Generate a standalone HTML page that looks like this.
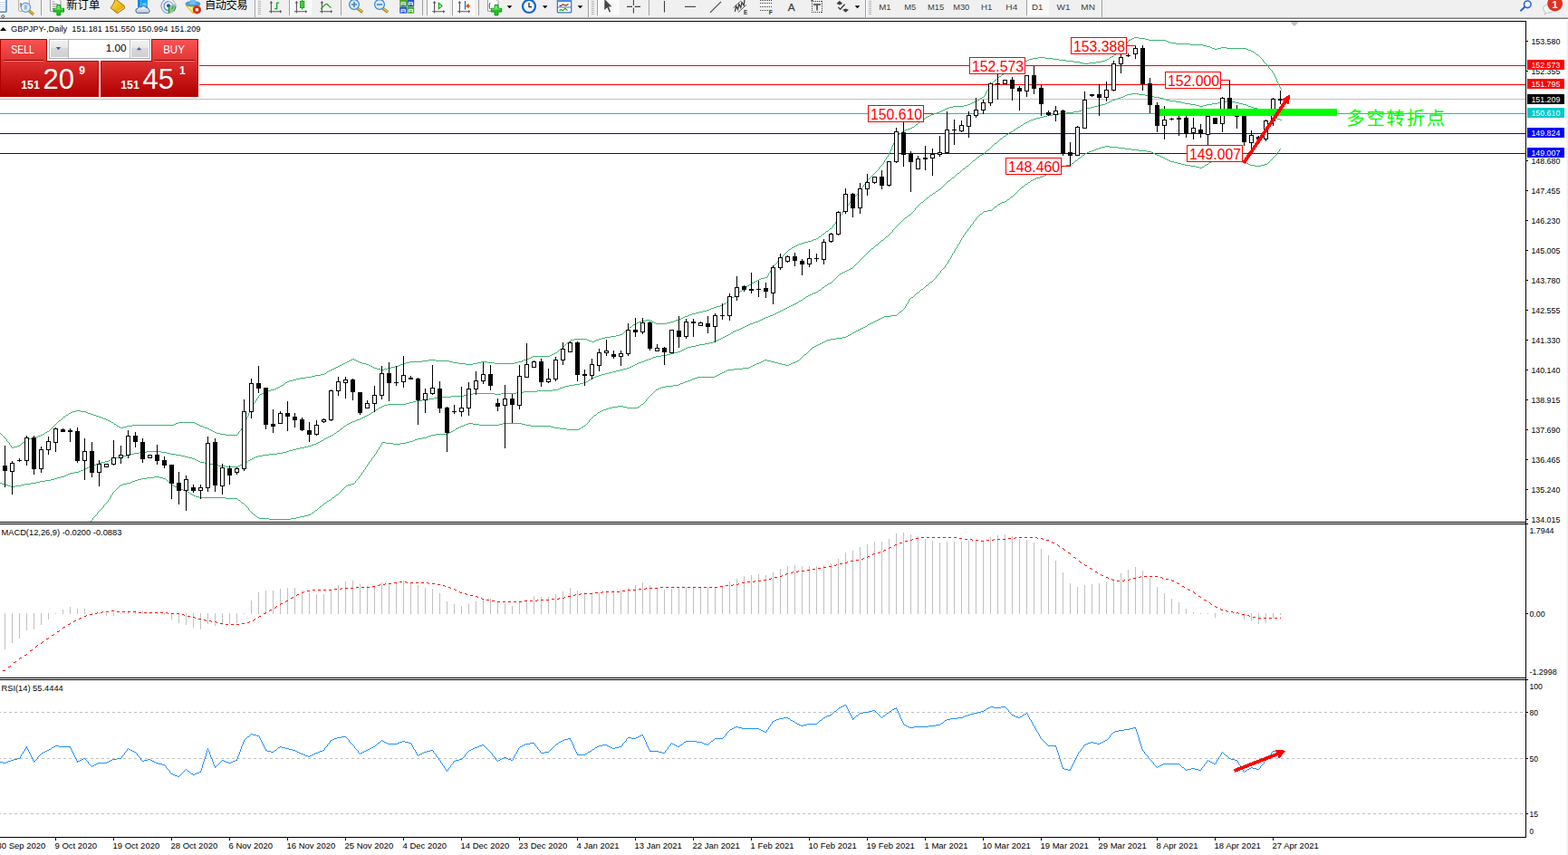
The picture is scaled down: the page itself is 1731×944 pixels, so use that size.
<!DOCTYPE html>
<html><head><meta charset="utf-8"><title>GBPJPY Daily</title>
<style>
html,body{margin:0;padding:0;background:#fff;}
body{width:1731px;height:944px;overflow:hidden;position:relative;font-family:"Liberation Sans",sans-serif;}
text{font-family:"Liberation Sans",sans-serif;}
</style></head><body>
<svg width="1731" height="944" viewBox="0 0 1731 944" style="position:absolute;left:0;top:0">
<defs><clipPath id="cm"><rect x="0" y="24" width="1684" height="552"/></clipPath></defs>
<rect x="0" y="23" width="1685" height="1" fill="#000" />
<rect x="1684" y="23" width="1" height="902" fill="#000" />
<rect x="0" y="576" width="1685" height="1" fill="#000" />
<rect x="0" y="578" width="1687" height="1" fill="#000" />
<rect x="0" y="748" width="1685" height="1" fill="#000" />
<rect x="0" y="750" width="1687" height="1" fill="#000" />
<rect x="0" y="924" width="1685" height="1" fill="#000" />
<rect x="1730" y="21" width="1" height="923" fill="#f0f0f0" />
<rect x="1729" y="21" width="1" height="923" fill="#f8f8f8" />
<rect x="220" y="72" width="1464" height="1" fill="#ff0000" />
<rect x="220" y="93" width="1464" height="1" fill="#ff0000" />
<rect x="0" y="109" width="1684" height="1" fill="#c0c0c0" />
<rect x="0" y="125" width="1684" height="1" fill="#00c8c8" />
<rect x="0" y="147" width="1684" height="1" fill="#0000ff" />
<rect x="0" y="169" width="1684" height="1" fill="#0000ff" />
<path d="M383 399.5h2M395 399.5h2M452 399.5h14M496 399.5h4M531 399.5h7M572 399.5h4M47 479.5h2M243 479.5h6M1146 63.5h8M1225 63.5h2M365 408.5h2M420 408.5h4M1298 48.5h16M385 398.5h2M393 398.5h2M466 398.5h7M481 398.5h15M576 398.5h2M50 477.5h2M237 477.5h2M1037 123.5h2M381 400.5h2M397 400.5h3M448 400.5h4M500 400.5h6M527 400.5h4M538 400.5h8M568 400.5h4M389 396.5h2M581 396.5h3M703 356.5h2M722 356.5h2M736 356.5h4M1136 65.5h4M1162 65.5h7M1222 65.5h2M799 335.5h2M387 397.5h2M391 397.5h2M473 397.5h8M578 397.5h3M1002 142.5h3M40 482.5h2M701 357.5h2M724 357.5h12M1115 77.5h2M795 337.5h3M1287 45.5h2M1106 82.5h2M146 469.5h46M219 469.5h2M123 466.5h2M197 466.5h18M373 404.5h2M409 404.5h2M436 404.5h4M588 393.5h19M690 365.5h2M1314 49.5h14M1132 67.5h2M1177 67.5h8M1216 67.5h4M45 480.5h2M249 480.5h13M1338 53.5h3M1344 53.5h4M1354 53.5h22M379 401.5h2M400 401.5h4M445 401.5h3M506 401.5h8M522 401.5h5M546 401.5h22M1192 69.5h4M1202 69.5h8M367 407.5h2M416 407.5h4M424 407.5h4M783 341.5h2M131 471.5h2M136 471.5h4M224 471.5h2M680 370.5h4M80 454.5h4M89 454.5h6M708 354.5h5M718 354.5h2M744 354.5h2M634 374.5h14M661 374.5h3M611 390.5h2M825 315.5h2M772 344.5h4M898 264.5h3M129 470.5h2M140 470.5h6M221 470.5h3M305 428.5h2M668 372.5h6M358 412.5h2M323 419.5h4M1378 55.5h3M888 267.5h4M1246 44.5h2M1268 44.5h19M1028 126.5h3M19 492.5h3M1134 66.5h2M1169 66.5h8M1220 66.5h2M65 464.5h2M119 464.5h2M1024 128.5h2M785 340.5h3M36 483.5h4M377 402.5h2M404 402.5h3M442 402.5h3M514 402.5h8M827 314.5h2M674 371.5h6M1108 81.5h2M761 347.5h3M626 378.5h2M100 457.5h3M29 485.5h3M73 458.5h2M103 458.5h3M812 325.5h2M315 422.5h2M70 460.5h2M109 460.5h3M752 351.5h2M1045 119.5h3M705 355.5h3M720 355.5h2M740 355.5h4M1073 113.5h2M369 406.5h2M413 406.5h3M428 406.5h4M1140 64.5h6M1154 64.5h8M25 488.5h2M653 377.5h3M1227 62.5h2M754 350.5h2M1048 118.5h4M1248 43.5h2M1264 43.5h4M749 352.5h3M126 468.5h2M192 468.5h2M217 468.5h2M1034 124.5h3M1233 58.5h2M52 476.5h2M235 476.5h2M1328 50.5h4M999 143.5h3M1185 68.5h7M1210 68.5h6M76 456.5h2M97 456.5h3M1236 56.5h2M1381 56.5h2M133 472.5h3M226 472.5h3M331 417.5h7M695 361.5h2M664 373.5h4M371 405.5h2M411 405.5h2M432 405.5h4M291 433.5h2M348 414.5h6M1250 42.5h2M1257 42.5h7M233 475.5h2M15 493.5h4M293 432.5h2M1123 73.5h2M880 270.5h2M993 147.5h2M194 467.5h3M215 467.5h2M876 272.5h2M1011 137.5h2M1292 47.5h6M106 459.5h3M1383 57.5h2M1052 117.5h12M42 481.5h3M1341 54.5h3M1376 54.5h2M878 271.5h2M630 375.5h4M648 375.5h2M658 375.5h3M1128 70.5h2M1196 70.5h6M650 376.5h3M656 376.5h2M780 342.5h3M239 478.5h4M901 263.5h2M78 455.5h2M95 455.5h2M896 265.5h2M768 345.5h4M303 429.5h2M84 453.5h5M319 420.5h4M885 268.5h3M1026 127.5h2M1103 84.5h2M1332 51.5h4M1082 108.5h2M1079 110.5h2M1098 88.5h2M803 332.5h2M1230 60.5h2M1387 60.5h2M759 348.5h2M844 306.5h3M1125 72.5h2M713 353.5h5M746 353.5h3M1043 120.5h2M618 385.5h2M834 310.5h2M1071 114.5h2M112 461.5h2M836 309.5h2M808 328.5h2M311 425.5h2M1252 41.5h5M1113 78.5h2M791 338.5h4M586 394.5h2M338 416.5h6M609 391.5h2M361 410.5h2M121 465.5h2M1022 129.5h2M375 403.5h2M407 403.5h2M440 403.5h2M344 415.5h4M1336 52.5h2M1348 52.5h6M756 349.5h3M908 258.5h2M1121 74.5h2M1005 141.5h2M832 311.5h2M1068 115.5h3M1007 140.5h2M1031 125.5h3M117 463.5h2M817 321.5h2M114 462.5h3M997 144.5h2M317 421.5h2M1015 134.5h2M299 430.5h4M229 473.5h2M764 346.5h4M882 269.5h3M13 494.5h2M607 392.5h2M32 484.5h4M1041 121.5h2M788 339.5h3M309 426.5h2M1289 46.5h3M327 418.5h4M231 474.5h2M822 317.5h2M840 307.5h4M684 369.5h3M1077 111.5h2M354 413.5h4M287 435.5h2M1119 75.5h2M1084 107.5h2M904 261.5h2M1111 79.5h2M363 409.5h2M295 431.5h4M912 255.5h2M1117 76.5h2M289 434.5h2M1019 131.5h2M1039 122.5h2M1064 116.5h4M830 312.5h2M874 273.5h2M307 427.5h2M776 343.5h4M892 266.5h4M838 308.5h2M1075 112.5h2M584 395.5h2M699 358.5h2M613 389.5h2M871 275.5h2M916 252.5h2M1407.5 83v2M983.5 165v2M1018.5 132v1M5.5 483v1M972.5 183v1M975.5 179v2M1241.5 51v1M857.5 290v1M1110.5 80v1M1095.5 91v1M920.5 248v1M967.5 189v1M1087.5 104v2M932.5 230v2M1131.5 68v1M67.5 463v1M624.5 380v1M280.5 445v1M865.5 281v1M854.5 293v1M1396.5 69v1M987.5 155v3M814.5 324v1M271.5 463v2M943.5 217v2M263.5 477v2M978.5 174v2M4.5 482v1M1403.5 77v1M1406.5 81v2M615.5 388v1M276.5 452v2M850.5 299v2M807.5 329v1M1091.5 97v2M314.5 423v1M923.5 244v1M1389.5 61v1M283.5 440v2M935.5 227v1M982.5 167v2M275.5 454v2M23.5 490v1M1395.5 68v1M930.5 233v2M58.5 471v1M962.5 194v1M622.5 382v1M911.5 256v1M1244.5 46v2M274.5 456v3M869.5 277v1M811.5 326v1M926.5 240v1M938.5 223v1M279.5 446v2M270.5 465v3M989.5 151v2M1232.5 59v1M951.5 207v1M1009.5 139v1M27.5 487v1M1224.5 64v1M262.5 479v1M974.5 181v1M954.5 203v1M1394.5 66v2M286.5 436v1M1013.5 136v1M1413.5 96v2M915.5 253v1M269.5 468v2M69.5 461v1M7.5 485v2M919.5 249v2M853.5 294v2M8.5 487v1M966.5 190v1M848.5 302v2M805.5 331v1M957.5 199v1M265.5 475v1M864.5 282v1M49.5 478v1M942.5 219v1M1017.5 133v1M847.5 304v2M0.5 478v1M1097.5 89v1M922.5 245v2M969.5 187v1M1238.5 55v1M937.5 224v2M981.5 169v2M1101.5 86v1M950.5 208v2M929.5 235v2M60.5 469v1M282.5 442v1M824.5 316v1M273.5 459v2M945.5 215v1M128.5 469v1M693.5 363v1M925.5 241v2M1397.5 70v1M278.5 448v2M1398.5 71v1M6.5 484v1M988.5 153v2M1105.5 83v1M856.5 291v1M953.5 204v2M859.5 287v1M10.5 489v2M934.5 228v1M285.5 437v2M628.5 377v1M617.5 386v1M906.5 260v1M268.5 470v2M964.5 192v1M1390.5 62v1M75.5 457v1M621.5 383v1M910.5 257v1M697.5 360v1M1412.5 94v2M977.5 176v1M980.5 171v2M64.5 465v1M55.5 474v1M940.5 221v1M928.5 237v1M866.5 280v1M956.5 200v2M948.5 211v1M1411.5 92v2M1096.5 90v1M1400.5 73v2M968.5 188v1M873.5 274v1M2.5 480v1M959.5 197v1M1401.5 75v1M815.5 323v1M1385.5 58v1M991.5 149v1M264.5 476v1M1386.5 59v1M995.5 146v1M9.5 488v1M272.5 461v2M984.5 162v3M1242.5 49v2M858.5 288v2M1414.5 98v1M1.5 479v1M924.5 243v1M971.5 184v1M1229.5 61v1M1100.5 87v1M62.5 467v1M1130.5 69v1M947.5 212v2M12.5 492v2M623.5 381v1M267.5 472v1M688.5 367v1M819.5 320v1M870.5 276v1M963.5 193v1M692.5 364v1M861.5 285v1M1021.5 130v1M1410.5 90v2M1392.5 64v1M360.5 411v1M936.5 226v1M1399.5 72v1M1094.5 92v1M986.5 158v2M931.5 232v1M11.5 491v1M1090.5 99v1M798.5 336v1M57.5 472v1M927.5 238v2M849.5 301v1M1240.5 52v1M939.5 222v1M1243.5 48v1M802.5 333v1M1409.5 87v3M54.5 475v1M1010.5 138v1M955.5 202v1M1086.5 106v1M22.5 491v1M970.5 185v2M125.5 467v1M1391.5 63v1M868.5 278v1M914.5 254v1M961.5 195v1M806.5 330v1M852.5 296v2M68.5 462v1M918.5 251v1M829.5 313v1M903.5 262v1M266.5 473v2M958.5 198v1M985.5 160v2M821.5 318v1M281.5 443v2M810.5 327v1M313.5 424v1M61.5 468v1M907.5 259v1M694.5 362v1M990.5 150v1M1402.5 76v1M1235.5 57v1M1089.5 100v2M687.5 368v1M277.5 450v2M973.5 182v1M1239.5 53v2M1102.5 85v1M1093.5 93v2M921.5 247v1M72.5 459v1M625.5 379v1M946.5 214v1M3.5 481v1M949.5 210v1M629.5 376v1M863.5 283v1M976.5 177v2M941.5 220v1M698.5 359v1M860.5 286v1M56.5 473v1M855.5 292v1M965.5 191v1M1408.5 85v2M933.5 229v1M1404.5 78v2M59.5 470v1M616.5 387v1M1405.5 80v1M1092.5 95v2M944.5 216v1M620.5 384v1M801.5 334v1M867.5 279v1M1393.5 65v1M992.5 148v1M24.5 489v1M1088.5 102v2M952.5 206v1M28.5 486v1M1081.5 109v1M284.5 439v1M979.5 173v1M960.5 196v1M816.5 322v1M851.5 298v1M1245.5 45v1M1127.5 71v1M63.5 466v1M820.5 319v1M996.5 145v1M689.5 366v1M1014.5 135v1M862.5 284v1" stroke="#3cb371" stroke-width="1" fill="none" shape-rendering="crispEdges"/>
<path d="M1138 132.5h3M1413 132.5h2M1244 104.5h5M1257 104.5h7M753 386.5h2M154 499.5h8M178 499.5h6M312 499.5h4M428 446.5h20M140 502.5h4M194 502.5h6M290 502.5h7M77 522.5h5M1226 111.5h2M1291 111.5h7M1354 111.5h6M1220 114.5h2M1308 114.5h6M1338 114.5h6M1368 114.5h4M106 512.5h3M232 512.5h4M267 512.5h2M483 438.5h15M0 533.5h2M34 533.5h6M999 240.5h2M672 411.5h4M1231 109.5h3M1284 109.5h3M640 423.5h4M162 498.5h16M316 498.5h3M1208 117.5h4M1324 117.5h4M1378 117.5h3M929 301.5h2M1104 153.5h2M877 335.5h2M1127 138.5h2M848 349.5h2M1124 140.5h2M1224 112.5h2M1298 112.5h6M1348 112.5h6M1360 112.5h4M112 510.5h4M221 510.5h5M271 510.5h2M818 362.5h2M98 515.5h2M249 515.5h14M621 427.5h3M716 396.5h3M44 531.5h6M498 437.5h14M2 534.5h3M27 534.5h7M684 408.5h4M867 340.5h2M744 389.5h4M570 433.5h8M800 371.5h2M1237 107.5h3M1274 107.5h6M124 506.5h3M212 506.5h3M278 506.5h2M730 392.5h6M56 529.5h4M904 320.5h2M634 424.5h6M820 361.5h2M661 414.5h3M1156 127.5h6M1401 127.5h2M1222 113.5h2M1304 113.5h4M1344 113.5h4M1364 113.5h4M719 395.5h2M403 459.5h2M869 339.5h2M1216 115.5h4M1314 115.5h6M1332 115.5h6M1372 115.5h4M522 434.5h24M553 434.5h17M1144 130.5h4M1408 130.5h2M962 274.5h2M103 513.5h3M236 513.5h5M265 513.5h2M578 432.5h15M652 418.5h2M865 341.5h2M5 535.5h4M23 535.5h4M1204 118.5h4M1381 118.5h3M708 399.5h3M1169 125.5h8M1228 110.5h3M1287 110.5h4M935 298.5h2M456 443.5h4M331 494.5h5M1017 223.5h2M516 435.5h6M546 435.5h7M973 265.5h2M136 503.5h4M200 503.5h4M285 503.5h5M1212 116.5h4M1320 116.5h4M1328 116.5h4M1376 116.5h2M319 497.5h4M787 377.5h3M1249 103.5h8M466 441.5h7M1141 131.5h3M1410 131.5h3M654 417.5h2M346 490.5h3M837 354.5h2M122 507.5h2M215 507.5h2M276 507.5h2M892 326.5h2M772 380.5h6M807 367.5h2M109 511.5h3M226 511.5h6M269 511.5h2M336 493.5h4M1136 133.5h2M1200 119.5h4M1384 119.5h4M389 465.5h3M826 358.5h2M857 345.5h2M978 261.5h2M763 382.5h5M131 504.5h5M204 504.5h4M282 504.5h3M323 496.5h4M790 376.5h2M473 440.5h6M148 500.5h6M184 500.5h4M306 500.5h6M410 455.5h2M624 426.5h4M12 537.5h5M894 325.5h2M100 514.5h3M241 514.5h8M263 514.5h2M1116 145.5h2M120 508.5h2M217 508.5h2M274 508.5h2M593 431.5h17M628 425.5h6M9 536.5h3M17 536.5h6M845 350.5h3M420 449.5h2M644 422.5h3M887 329.5h2M71 525.5h2M60 528.5h3M901 322.5h2M380 470.5h2M816 363.5h2M688 407.5h4M399 461.5h2M1185 123.5h6M1394 123.5h2M705 400.5h3M479 439.5h4M1057 191.5h2M1119 143.5h2M650 419.5h2M778 379.5h5M1242 105.5h2M1264 105.5h4M911 315.5h2M144 501.5h4M188 501.5h6M297 501.5h9M448 445.5h4M92 518.5h2M697 404.5h2M873 337.5h2M692 406.5h3M1027 215.5h2M1063 186.5h2M63 527.5h4M355 486.5h2M50 530.5h6M1148 129.5h4M1405 129.5h3M1162 126.5h7M1399 126.5h2M618 428.5h3M676 410.5h4M740 390.5h4M610 430.5h6M67 526.5h4M884 331.5h2M798 372.5h2M724 393.5h6M794 374.5h2M658 415.5h3M1152 128.5h4M1403 128.5h2M512 436.5h4M340 492.5h4M1047 199.5h2M1003 237.5h2M418 450.5h2M1111 148.5h2M452 444.5h4M366 480.5h2M1108 150.5h2M1132 135.5h2M362 482.5h2M1197 120.5h3M1388 120.5h3M87 520.5h2M344 491.5h2M890 327.5h2M75 523.5h2M834 355.5h3M392 464.5h2M1134 134.5h2M364 481.5h2M1234 108.5h3M1280 108.5h4M387 466.5h2M908 317.5h2M855 346.5h2M116 509.5h4M219 509.5h2M759 383.5h4M89 519.5h3M751 387.5h2M424 447.5h4M372 476.5h2M1240 106.5h2M1268 106.5h6M40 532.5h4M695 405.5h2M1033 211.5h2M1194 121.5h3M1391 121.5h2M813 364.5h3M401 460.5h2M397 462.5h2M863 342.5h2M415 452.5h2M882 332.5h2M703 401.5h2M127 505.5h4M208 505.5h4M280 505.5h2M1177 124.5h8M1396 124.5h2M802 370.5h2M850 348.5h3M875 336.5h2M871 338.5h2M1114 146.5h2M422 448.5h2M853 347.5h2M736 391.5h4M353 487.5h2M843 351.5h2M748 388.5h3M616 429.5h2M916 312.5h2M796 373.5h2M1098 158.5h2M713 397.5h3M931 300.5h2M757 384.5h2M783 378.5h4M831 356.5h3M933 299.5h2M1082 171.5h2M822 360.5h2M967 270.5h2M721 394.5h3M405 458.5h2M804 369.5h2M647 421.5h2M1084 170.5h2M824 359.5h2M407 457.5h2M656 416.5h2M839 353.5h2M939 296.5h2M680 409.5h4M668 412.5h4M792 375.5h2M1122 141.5h2M351 488.5h2M376 473.5h2M896 324.5h2M460 442.5h6M811 365.5h2M394 463.5h3M1067 183.5h2M768 381.5h4M861 343.5h2M327 495.5h4M898 323.5h3M1191 122.5h3M1023 218.5h2M841 352.5h2M369 478.5h2M937 297.5h2M94 517.5h2M711 398.5h2M1090 165.5h2M96 516.5h2M828 357.5h3M701 402.5h2M358 484.5h2M383 468.5h2M385 467.5h2M664 413.5h4M914 313.5h2M1030 213.5h2M809 366.5h2M859 344.5h2M755 385.5h2M82 521.5h5M1130 136.5h2M360 483.5h2M1036 209.5h2M927 302.5h2M1074 177.5h2M73 524.5h2M1079 173.5h2M1051 196.5h2M349 489.5h2M412 454.5h2M879 334.5h2M699 403.5h2M1010.5 230v2M374.5 475v1M1012.5 228v1M976.5 263v1M903.5 321v1M982.5 258v1M965.5 272v1M1060.5 189v1M1077.5 175v1M1076.5 176v1M981.5 259v1M1013.5 227v1M1009.5 232v1M980.5 260v1M998.5 241v1M964.5 273v1M969.5 269v1M996.5 243v1M1002.5 238v1M1086.5 169v1M1001.5 239v1M1006.5 235v1M955.5 281v1M956.5 280v1M1040.5 206v1M1015.5 225v1M986.5 253v1M953.5 283v1M954.5 282v1M994.5 245v1M1038.5 208v1M806.5 368v1M1045.5 201v1M1046.5 200v1M886.5 330v1M1029.5 214v1M375.5 474v1M1019.5 222v1M985.5 254v2M992.5 247v1M649.5 420v1M922.5 307v1M379.5 471v1M923.5 306v1M1097.5 159v1M1081.5 172v1M1103.5 154v1M943.5 293v1M944.5 292v1M920.5 309v1M1095.5 161v1M921.5 308v1M378.5 472v1M1096.5 160v1M1101.5 156v1M907.5 318v1M941.5 295v1M1011.5 229v1M942.5 294v1M1069.5 182v1M1007.5 234v1M1089.5 166v1M1005.5 236v1M1087.5 168v1M1062.5 187v1M945.5 291v1M993.5 246v1M966.5 271v1M1050.5 197v1M1056.5 192v1M991.5 248v1M951.5 285v1M952.5 284v1M1049.5 198v1M1054.5 194v1M1102.5 155v1M1044.5 202v1M1107.5 151v1M889.5 328v1M950.5 286v1M382.5 469v1M1042.5 204v1M1100.5 157v1M1106.5 152v1M1032.5 212v1M1126.5 139v1M949.5 287v1M906.5 319v1M989.5 250v1M1398.5 125v1M1118.5 144v1M357.5 485v1M1088.5 167v1M1110.5 149v1M1093.5 163v1M919.5 310v1M1094.5 162v1M984.5 256v1M1016.5 224v1M987.5 252v1M977.5 262v1M273.5 509v1M1092.5 164v1M918.5 311v1M983.5 257v1M1393.5 122v1M1020.5 221v1M1129.5 137v1M972.5 266v1M1073.5 178v1M970.5 268v1M971.5 267v1M1066.5 184v1M1071.5 180v1M960.5 276v1M1055.5 193v1M961.5 275v1M1072.5 179v1M1061.5 188v1M975.5 264v1M958.5 278v1M1070.5 181v1M959.5 277v1M1059.5 190v1M414.5 453v1M1043.5 203v1M1065.5 185v1M1008.5 233v1M881.5 333v1M957.5 279v1M990.5 249v1M997.5 242v1M1041.5 205v1M417.5 451v1M1053.5 195v1M409.5 456v1M1022.5 219v1M988.5 251v1M368.5 479v1M995.5 244v1M948.5 288v1M1035.5 210v1M925.5 304v1M926.5 303v1M1021.5 220v1M1026.5 216v1M910.5 316v1M913.5 314v1M946.5 290v1M1121.5 142v1M947.5 289v1M1113.5 147v1M924.5 305v1M1039.5 207v1M1025.5 217v1M371.5 477v1M1014.5 226v1M1078.5 174v1" stroke="#3cb371" stroke-width="1" fill="none" shape-rendering="crispEdges"/>
<path d="M512 469.5h2M529 469.5h22M580 469.5h6M810 407.5h10M1216 162.5h4M1225 162.5h9M1200 168.5h2M1271 168.5h2M466 483.5h5M682 448.5h6M156 528.5h6M180 528.5h3M133 535.5h3M384 535.5h4M770 416.5h19M503 473.5h2M618 473.5h8M639 473.5h2M336 569.5h4M200 540.5h2M899 382.5h2M1106 223.5h3M456 486.5h2M835 401.5h3M859 401.5h4M873 401.5h2M509 470.5h3M586 470.5h22M644 470.5h2M514 468.5h3M522 468.5h7M551 468.5h4M576 468.5h4M797 411.5h2M1177 182.5h5M1308 182.5h6M1330 182.5h2M1380 182.5h5M1392 182.5h4M1102 225.5h2M267 555.5h2M358 555.5h2M669 451.5h3M1304 181.5h4M1332 181.5h2M1378 181.5h2M1396 181.5h3M1288 176.5h2M1341 176.5h16M286 572.5h11M321 572.5h6M793 413.5h2M759 420.5h3M426 489.5h8M442 489.5h6M1187 177.5h2M1290 177.5h2M1339 177.5h2M1357 177.5h9M146 531.5h3M754 422.5h2M434 490.5h8M1296 179.5h4M1335 179.5h2M1372 179.5h4M1282 173.5h2M136 534.5h4M388 534.5h3M1292 178.5h4M1337 178.5h2M1366 178.5h6M743 425.5h6M191 536.5h2M382 536.5h2M220 549.5h29M367 549.5h2M735 426.5h8M930 372.5h4M672 450.5h4M692 450.5h12M1157 191.5h5M983 348.5h7M263 552.5h2M363 552.5h2M214 547.5h2M756 421.5h3M662 454.5h2M949 363.5h2M838 400.5h2M855 400.5h4M875 400.5h3M968 353.5h2M297 573.5h24M1195 171.5h2M1277 171.5h3M842 398.5h2M847 398.5h4M880 398.5h2M907 378.5h2M1155 192.5h2M1183 180.5h2M1300 180.5h4M1376 180.5h2M517 467.5h5M555 467.5h21M1208 165.5h2M1249 165.5h8M1173 183.5h4M1314 183.5h6M1385 183.5h7M1144 196.5h4M1220 161.5h5M801 409.5h2M960 357.5h2M1324 185.5h3M764 418.5h3M1128 206.5h2M152 529.5h4M481 479.5h13M353 559.5h2M1286 175.5h2M1280 172.5h2M1198 169.5h2M1273 169.5h2M496 477.5h2M676 449.5h6M688 449.5h4M704 449.5h2M507 471.5h2M608 471.5h4M642 471.5h2M361 553.5h2M1210 164.5h3M1242 164.5h7M1202 167.5h3M1266 167.5h5M831 403.5h2M867 403.5h4M666 452.5h3M284 571.5h2M327 571.5h4M827 405.5h2M976 349.5h7M144 532.5h2M186 532.5h2M249 550.5h13M840 399.5h2M851 399.5h4M878 399.5h2M820 406.5h7M170 526.5h6M1138 199.5h2M1086 233.5h4M494 478.5h2M730 427.5h5M207 543.5h2M280 568.5h2M340 568.5h3M1320 184.5h4M1327 184.5h2M708 446.5h2M660 455.5h2M473 481.5h3M626 474.5h13M1112 220.5h2M803 408.5h7M1213 163.5h3M1234 163.5h8M331 570.5h5M210 545.5h2M1142 197.5h2M458 485.5h3M958 358.5h2M452 487.5h4M212 546.5h2M371 546.5h2M205 542.5h2M1148 195.5h3M833 402.5h2M863 402.5h4M871 402.5h2M917 374.5h6M216 548.5h4M791 414.5h2M1205 166.5h3M1257 166.5h9M1135 201.5h2M923 373.5h7M951 362.5h2M947 364.5h2M970 352.5h2M1275 170.5h2M966 354.5h2M461 484.5h5M1191 174.5h2M1284 174.5h2M505 472.5h2M612 472.5h6M799 410.5h2M202 541.5h3M476 480.5h5M195 538.5h2M1090 232.5h5M911 376.5h2M941 367.5h2M162 527.5h8M176 527.5h4M955 360.5h2M193 537.5h2M829 404.5h2M344 566.5h2M974 350.5h2M664 453.5h2M422 488.5h4M448 488.5h4M348 563.5h2M1006 328.5h2M728 428.5h2M913 375.5h4M943 366.5h2M1017 319.5h2M1162 190.5h4M905 379.5h2M1153 193.5h2M498 476.5h2M1022 315.5h2M888 391.5h2M1140 198.5h2M938 369.5h2M1027 311.5h2M149 530.5h3M140 533.5h4M844 397.5h3M1104 224.5h2M197 539.5h3M901 381.5h2M903 380.5h2M1012 323.5h2M934 371.5h2M953 361.5h2M789 415.5h2M936 370.5h2M1082 236.5h2M751 423.5h3M964 355.5h2M1151 194.5h2M656 458.5h2M500 475.5h2M1109 222.5h2M762 419.5h2M972 351.5h2M726 429.5h2M1098 228.5h2M1132 203.5h2M993 344.5h2M962 356.5h2M795 412.5h2M1169 186.5h2M724 430.5h2M749 424.5h2M1116 217.5h2M945 365.5h2M471 482.5h2M909 377.5h2M767 417.5h3M897 383.5h2M712.5 443v1M1001.5 335v1M1068.5 253v2M269.5 556v1M1024.5 314v1M1137.5 200v1M1063.5 260v2M128.5 540v1M1044.5 292v1M1119.5 215v1M113.5 560v1M1036.5 302v1M1059.5 267v2M1039.5 298v1M1071.5 249v2M1051.5 280v2M399.5 522v2M402.5 518v1M411.5 505v1M1404.5 175v1M276.5 564v1M1055.5 274v1M418.5 494v2M1047.5 287v2M896.5 384v1M1168.5 187v1M116.5 556v1M654.5 460v1M1412.5 165v2M379.5 539v1M1126.5 208v1M1172.5 184v1M658.5 457v1M132.5 536v1M1407.5 172v1M1079.5 239v1M343.5 567v1M502.5 474v1M651.5 463v1M1004.5 330v1M719.5 435v1M414.5 501v1M108.5 565v1M646.5 469v1M119.5 552v2M100.5 575v1M1000.5 336v2M1058.5 269v1M421.5 489v2M398.5 524v1M282.5 569v1M410.5 506v2M995.5 343v1M347.5 564v1M283.5 570v1M1097.5 229v1M1062.5 262v1M1011.5 324v1M370.5 547v1M405.5 513v2M1074.5 245v2M1054.5 275v2M891.5 389v1M1124.5 210v1M351.5 561v1M1043.5 293v2M1101.5 226v1M1046.5 289v2M374.5 544v1M1121.5 213v1M884.5 395v1M355.5 558v1M127.5 541v1M103.5 571v1M1038.5 299v2M1402.5 177v1M1050.5 282v2M707.5 447v1M711.5 444v1M1399.5 180v1M1070.5 251v1M1026.5 312v1M1015.5 321v1M1065.5 257v2M130.5 538v1M1030.5 309v1M1077.5 241v2M118.5 554v1M1019.5 318v1M393.5 530v1M381.5 537v1M999.5 338v2M277.5 565v1M417.5 496v1M278.5 566v1M895.5 385v1M1189.5 176v1M122.5 547v2M650.5 464v2M653.5 461v1M1193.5 173v1M1003.5 331v2M401.5 519v2M413.5 502v2M107.5 566v2M648.5 467v1M1406.5 173v1M1033.5 305v2M396.5 526v2M270.5 557v1M408.5 509v1M1334.5 180v1M102.5 572v2M420.5 491v2M188.5 533v1M1049.5 284v2M125.5 543v1M1197.5 170v1M714.5 440v1M110.5 563v1M1409.5 169v2M1061.5 263v2M365.5 551v1M886.5 393v1M1073.5 247v1M357.5 556v1M1053.5 277v2M346.5 565v1M1096.5 230v1M369.5 548v1M404.5 515v1M416.5 497v2M121.5 549v2M1057.5 270v2M1081.5 237v1M1037.5 301v1M997.5 341v1M265.5 553v1M1130.5 205v1M183.5 529v1M721.5 433v1M1076.5 243v1M893.5 387v1M392.5 531v2M1021.5 316v1M395.5 528v1M266.5 554v1M990.5 347v1M1010.5 325v1M1134.5 202v1M407.5 510v2M376.5 542v1M1123.5 211v1M1025.5 313v1M1100.5 227v1M1045.5 291v1M105.5 569v1M1008.5 327v1M1401.5 178v1M713.5 441v2M1032.5 307v1M1064.5 259v1M129.5 539v1M1029.5 310v1M1056.5 272v2M101.5 574v1M419.5 493v1M124.5 544v2M1114.5 219v1M716.5 438v1M189.5 534v1M1408.5 171v1M1060.5 265v2M1040.5 297v1M190.5 535v1M1118.5 216v1M403.5 516v2M279.5 567v1M415.5 499v2M1035.5 303v1M352.5 560v1M1067.5 255v1M117.5 555v1M655.5 459v1M120.5 551v1M659.5 456v1M1167.5 188v1M992.5 345v1M112.5 561v1M115.5 557v1M1411.5 167v1M272.5 559v1M378.5 540v1M1125.5 209v1M1016.5 320v1M720.5 434v1M1075.5 244v1M892.5 388v1M647.5 468v1M185.5 531v1M104.5 570v1M271.5 558v1M1171.5 185v1M996.5 342v1M723.5 431v1M131.5 537v1M957.5 359v1M394.5 529v1M406.5 512v1M375.5 543v1M1182.5 181v1M184.5 530v1M350.5 562v1M1403.5 176v1M1042.5 295v1M1186.5 178v1M1120.5 214v1M883.5 396v1M641.5 472v1M123.5 546v1M715.5 439v1M274.5 561v2M1085.5 234v1M275.5 563v1M1031.5 308v1M1078.5 240v1M1034.5 304v1M397.5 525v1M1066.5 256v1M409.5 508v1M1014.5 322v1M373.5 545v1M718.5 436v1M890.5 390v1M114.5 558v2M1190.5 175v1M126.5 542v1M1194.5 172v1M1002.5 333v2M111.5 562v1M649.5 466v1M940.5 368v1M262.5 551v1M706.5 448v1M400.5 521v1M412.5 504v1M710.5 445v1M106.5 568v1M1127.5 207v1M1166.5 189v1M991.5 346v1M1410.5 168v1M1413.5 164v1M377.5 541v1M366.5 550v1M273.5 560v1M887.5 392v1M722.5 432v1M1405.5 174v1M1069.5 252v1M1072.5 248v1M209.5 544v1M380.5 538v1M1329.5 183v1M998.5 340v1M1131.5 204v1M894.5 386v1M1080.5 238v1M652.5 462v1M1084.5 235v1M1005.5 329v1M356.5 557v1M1052.5 279v1M391.5 533v1M1020.5 317v1M1095.5 231v1M109.5 564v1M1009.5 326v1M360.5 554v1M1122.5 212v1M1111.5 221v1M1041.5 296v1M885.5 394v1M1185.5 179v1M882.5 397v1M1115.5 218v1M717.5 437v1M1048.5 286v1M1400.5 179v1" stroke="#3cb371" stroke-width="1" fill="none" shape-rendering="crispEdges"/>
<g shape-rendering="crispEdges"><rect x="5" y="492" width="1" height="46" fill="#000" /><rect x="3" y="514" width="5" height="6" fill="#000" /><rect x="13" y="509" width="1" height="37" fill="#000" /><rect x="11" y="511" width="5" height="10" fill="#000" /><rect x="12" y="512" width="3" height="8" fill="#fff" /><rect x="21" y="506" width="1" height="4" fill="#000" /><rect x="19" y="508" width="5" height="1" fill="#000" /><rect x="29" y="481" width="1" height="33" fill="#000" /><rect x="27" y="483" width="5" height="26" fill="#000" /><rect x="28" y="484" width="3" height="24" fill="#fff" /><rect x="37" y="481" width="1" height="43" fill="#000" /><rect x="35" y="483" width="5" height="35" fill="#000" /><rect x="45" y="493" width="1" height="29" fill="#000" /><rect x="43" y="496" width="5" height="22" fill="#000" /><rect x="44" y="497" width="3" height="20" fill="#fff" /><rect x="53" y="482" width="1" height="20" fill="#000" /><rect x="51" y="487" width="5" height="10" fill="#000" /><rect x="52" y="488" width="3" height="8" fill="#fff" /><rect x="61" y="472" width="1" height="27" fill="#000" /><rect x="59" y="473" width="5" height="16" fill="#000" /><rect x="60" y="474" width="3" height="14" fill="#fff" /><rect x="69" y="473" width="1" height="4" fill="#000" /><rect x="67" y="474" width="5" height="3" fill="#000" /><rect x="77" y="473" width="1" height="15" fill="#000" /><rect x="75" y="475" width="5" height="2" fill="#000" /><rect x="85" y="472" width="1" height="39" fill="#000" /><rect x="83" y="476" width="5" height="33" fill="#000" /><rect x="93" y="484" width="1" height="46" fill="#000" /><rect x="91" y="498" width="5" height="11" fill="#000" /><rect x="92" y="499" width="3" height="9" fill="#fff" /><rect x="101" y="488" width="1" height="39" fill="#000" /><rect x="99" y="498" width="5" height="24" fill="#000" /><rect x="109" y="508" width="1" height="29" fill="#000" /><rect x="107" y="512" width="5" height="10" fill="#000" /><rect x="108" y="513" width="3" height="8" fill="#fff" /><rect x="117" y="512" width="1" height="4" fill="#000" /><rect x="115" y="512" width="5" height="4" fill="#000" /><rect x="116" y="513" width="3" height="2" fill="#fff" /><rect x="125" y="486" width="1" height="28" fill="#000" /><rect x="123" y="505" width="5" height="8" fill="#000" /><rect x="124" y="506" width="3" height="6" fill="#fff" /><rect x="133" y="492" width="1" height="20" fill="#000" /><rect x="131" y="502" width="5" height="4" fill="#000" /><rect x="132" y="503" width="3" height="2" fill="#fff" /><rect x="141" y="475" width="1" height="31" fill="#000" /><rect x="139" y="481" width="5" height="22" fill="#000" /><rect x="140" y="482" width="3" height="20" fill="#fff" /><rect x="149" y="477" width="1" height="17" fill="#000" /><rect x="147" y="481" width="5" height="7" fill="#000" /><rect x="157" y="484" width="1" height="27" fill="#000" /><rect x="155" y="488" width="5" height="19" fill="#000" /><rect x="165" y="502" width="1" height="4" fill="#000" /><rect x="163" y="502" width="5" height="4" fill="#000" /><rect x="164" y="503" width="3" height="2" fill="#fff" /><rect x="173" y="491" width="1" height="22" fill="#000" /><rect x="171" y="502" width="5" height="7" fill="#000" /><rect x="181" y="504" width="1" height="13" fill="#000" /><rect x="179" y="508" width="5" height="6" fill="#000" /><rect x="189" y="513" width="1" height="38" fill="#000" /><rect x="187" y="513" width="5" height="21" fill="#000" /><rect x="197" y="521" width="1" height="36" fill="#000" /><rect x="195" y="533" width="5" height="9" fill="#000" /><rect x="205" y="525" width="1" height="39" fill="#000" /><rect x="203" y="529" width="5" height="13" fill="#000" /><rect x="204" y="530" width="3" height="11" fill="#fff" /><rect x="213" y="535" width="1" height="9" fill="#000" /><rect x="211" y="538" width="5" height="4" fill="#000" /><rect x="221" y="535" width="1" height="16" fill="#000" /><rect x="219" y="538" width="5" height="4" fill="#000" /><rect x="220" y="539" width="3" height="2" fill="#fff" /><rect x="229" y="482" width="1" height="61" fill="#000" /><rect x="227" y="489" width="5" height="50" fill="#000" /><rect x="228" y="490" width="3" height="48" fill="#fff" /><rect x="237" y="484" width="1" height="59" fill="#000" /><rect x="235" y="488" width="5" height="48" fill="#000" /><rect x="245" y="512" width="1" height="34" fill="#000" /><rect x="243" y="516" width="5" height="21" fill="#000" /><rect x="244" y="517" width="3" height="19" fill="#fff" /><rect x="253" y="514" width="1" height="21" fill="#000" /><rect x="251" y="517" width="5" height="8" fill="#000" /><rect x="261" y="516" width="1" height="8" fill="#000" /><rect x="259" y="517" width="5" height="5" fill="#000" /><rect x="260" y="518" width="3" height="3" fill="#fff" /><rect x="269" y="441" width="1" height="79" fill="#000" /><rect x="267" y="454" width="5" height="64" fill="#000" /><rect x="268" y="455" width="3" height="62" fill="#fff" /><rect x="277" y="418" width="1" height="44" fill="#000" /><rect x="275" y="423" width="5" height="32" fill="#000" /><rect x="276" y="424" width="3" height="30" fill="#fff" /><rect x="285" y="404" width="1" height="30" fill="#000" /><rect x="283" y="423" width="5" height="6" fill="#000" /><rect x="293" y="428" width="1" height="46" fill="#000" /><rect x="291" y="428" width="5" height="41" fill="#000" /><rect x="301" y="452" width="1" height="26" fill="#000" /><rect x="299" y="468" width="5" height="3" fill="#000" /><rect x="309" y="454" width="1" height="14" fill="#000" /><rect x="307" y="456" width="5" height="12" fill="#000" /><rect x="308" y="457" width="3" height="10" fill="#fff" /><rect x="317" y="443" width="1" height="33" fill="#000" /><rect x="315" y="456" width="5" height="4" fill="#000" /><rect x="325" y="456" width="1" height="16" fill="#000" /><rect x="323" y="460" width="5" height="4" fill="#000" /><rect x="333" y="461" width="1" height="15" fill="#000" /><rect x="331" y="463" width="5" height="12" fill="#000" /><rect x="341" y="466" width="1" height="22" fill="#000" /><rect x="339" y="475" width="5" height="5" fill="#000" /><rect x="349" y="464" width="1" height="17" fill="#000" /><rect x="347" y="469" width="5" height="11" fill="#000" /><rect x="348" y="470" width="3" height="9" fill="#fff" /><rect x="357" y="462" width="1" height="5" fill="#000" /><rect x="355" y="463" width="5" height="3" fill="#000" /><rect x="356" y="464" width="3" height="1" fill="#fff" /><rect x="365" y="430" width="1" height="35" fill="#000" /><rect x="363" y="431" width="5" height="33" fill="#000" /><rect x="364" y="432" width="3" height="31" fill="#fff" /><rect x="373" y="416" width="1" height="21" fill="#000" /><rect x="371" y="421" width="5" height="11" fill="#000" /><rect x="372" y="422" width="3" height="9" fill="#fff" /><rect x="381" y="416" width="1" height="24" fill="#000" /><rect x="379" y="419" width="5" height="4" fill="#000" /><rect x="380" y="420" width="3" height="2" fill="#fff" /><rect x="389" y="418" width="1" height="24" fill="#000" /><rect x="387" y="419" width="5" height="14" fill="#000" /><rect x="397" y="433" width="1" height="25" fill="#000" /><rect x="395" y="433" width="5" height="23" fill="#000" /><rect x="405" y="442" width="1" height="9" fill="#000" /><rect x="403" y="445" width="5" height="6" fill="#000" /><rect x="404" y="446" width="3" height="4" fill="#fff" /><rect x="413" y="426" width="1" height="29" fill="#000" /><rect x="411" y="436" width="5" height="10" fill="#000" /><rect x="412" y="437" width="3" height="8" fill="#fff" /><rect x="421" y="404" width="1" height="37" fill="#000" /><rect x="419" y="412" width="5" height="25" fill="#000" /><rect x="420" y="413" width="3" height="23" fill="#fff" /><rect x="429" y="400" width="1" height="43" fill="#000" /><rect x="427" y="412" width="5" height="11" fill="#000" /><rect x="437" y="404" width="1" height="22" fill="#000" /><rect x="435" y="422" width="5" height="1" fill="#000" /><rect x="445" y="393" width="1" height="35" fill="#000" /><rect x="443" y="414" width="5" height="8" fill="#000" /><rect x="444" y="415" width="3" height="6" fill="#fff" /><rect x="453" y="415" width="1" height="4" fill="#000" /><rect x="451" y="417" width="5" height="2" fill="#000" /><rect x="461" y="417" width="1" height="52" fill="#000" /><rect x="459" y="418" width="5" height="24" fill="#000" /><rect x="469" y="429" width="1" height="27" fill="#000" /><rect x="467" y="434" width="5" height="8" fill="#000" /><rect x="468" y="435" width="3" height="6" fill="#fff" /><rect x="477" y="403" width="1" height="33" fill="#000" /><rect x="475" y="428" width="5" height="7" fill="#000" /><rect x="476" y="429" width="3" height="5" fill="#fff" /><rect x="485" y="421" width="1" height="35" fill="#000" /><rect x="483" y="429" width="5" height="22" fill="#000" /><rect x="493" y="449" width="1" height="50" fill="#000" /><rect x="491" y="450" width="5" height="28" fill="#000" /><rect x="501" y="447" width="1" height="10" fill="#000" /><rect x="499" y="454" width="5" height="1" fill="#000" /><rect x="509" y="427" width="1" height="33" fill="#000" /><rect x="507" y="450" width="5" height="5" fill="#000" /><rect x="508" y="451" width="3" height="3" fill="#fff" /><rect x="517" y="422" width="1" height="37" fill="#000" /><rect x="515" y="429" width="5" height="22" fill="#000" /><rect x="516" y="430" width="3" height="20" fill="#fff" /><rect x="525" y="410" width="1" height="26" fill="#000" /><rect x="523" y="420" width="5" height="10" fill="#000" /><rect x="524" y="421" width="3" height="8" fill="#fff" /><rect x="533" y="400" width="1" height="24" fill="#000" /><rect x="531" y="413" width="5" height="8" fill="#000" /><rect x="532" y="414" width="3" height="6" fill="#fff" /><rect x="541" y="403" width="1" height="28" fill="#000" /><rect x="539" y="413" width="5" height="13" fill="#000" /><rect x="549" y="440" width="1" height="14" fill="#000" /><rect x="547" y="445" width="5" height="4" fill="#000" /><rect x="557" y="425" width="1" height="70" fill="#000" /><rect x="555" y="440" width="5" height="8" fill="#000" /><rect x="556" y="441" width="3" height="6" fill="#fff" /><rect x="565" y="435" width="1" height="32" fill="#000" /><rect x="563" y="440" width="5" height="7" fill="#000" /><rect x="573" y="403" width="1" height="49" fill="#000" /><rect x="571" y="415" width="5" height="33" fill="#000" /><rect x="572" y="416" width="3" height="31" fill="#fff" /><rect x="581" y="379" width="1" height="38" fill="#000" /><rect x="579" y="402" width="5" height="15" fill="#000" /><rect x="580" y="403" width="3" height="13" fill="#fff" /><rect x="589" y="398" width="1" height="8" fill="#000" /><rect x="587" y="399" width="5" height="7" fill="#000" /><rect x="588" y="400" width="3" height="5" fill="#fff" /><rect x="597" y="396" width="1" height="31" fill="#000" /><rect x="595" y="399" width="5" height="23" fill="#000" /><rect x="605" y="407" width="1" height="16" fill="#000" /><rect x="603" y="418" width="5" height="4" fill="#000" /><rect x="604" y="419" width="3" height="2" fill="#fff" /><rect x="613" y="394" width="1" height="27" fill="#000" /><rect x="611" y="397" width="5" height="22" fill="#000" /><rect x="612" y="398" width="3" height="20" fill="#fff" /><rect x="621" y="378" width="1" height="25" fill="#000" /><rect x="619" y="385" width="5" height="13" fill="#000" /><rect x="620" y="386" width="3" height="11" fill="#fff" /><rect x="629" y="377" width="1" height="12" fill="#000" /><rect x="627" y="378" width="5" height="11" fill="#000" /><rect x="628" y="379" width="3" height="9" fill="#fff" /><rect x="637" y="377" width="1" height="44" fill="#000" /><rect x="635" y="378" width="5" height="36" fill="#000" /><rect x="645" y="408" width="1" height="18" fill="#000" /><rect x="643" y="413" width="5" height="2" fill="#000" /><rect x="653" y="396" width="1" height="23" fill="#000" /><rect x="651" y="402" width="5" height="13" fill="#000" /><rect x="652" y="403" width="3" height="11" fill="#fff" /><rect x="661" y="385" width="1" height="25" fill="#000" /><rect x="659" y="389" width="5" height="15" fill="#000" /><rect x="660" y="390" width="3" height="13" fill="#fff" /><rect x="669" y="375" width="1" height="18" fill="#000" /><rect x="667" y="387" width="5" height="3" fill="#000" /><rect x="668" y="388" width="3" height="1" fill="#fff" /><rect x="677" y="387" width="1" height="9" fill="#000" /><rect x="675" y="391" width="5" height="3" fill="#000" /><rect x="685" y="387" width="1" height="17" fill="#000" /><rect x="683" y="390" width="5" height="4" fill="#000" /><rect x="684" y="391" width="3" height="2" fill="#fff" /><rect x="693" y="357" width="1" height="36" fill="#000" /><rect x="691" y="364" width="5" height="27" fill="#000" /><rect x="692" y="365" width="3" height="25" fill="#fff" /><rect x="701" y="351" width="1" height="21" fill="#000" /><rect x="699" y="364" width="5" height="3" fill="#000" /><rect x="709" y="351" width="1" height="18" fill="#000" /><rect x="707" y="356" width="5" height="11" fill="#000" /><rect x="708" y="357" width="3" height="9" fill="#fff" /><rect x="717" y="355" width="1" height="32" fill="#000" /><rect x="715" y="356" width="5" height="29" fill="#000" /><rect x="725" y="380" width="1" height="8" fill="#000" /><rect x="723" y="384" width="5" height="4" fill="#000" /><rect x="724" y="385" width="3" height="2" fill="#fff" /><rect x="733" y="383" width="1" height="20" fill="#000" /><rect x="731" y="384" width="5" height="5" fill="#000" /><rect x="741" y="364" width="1" height="26" fill="#000" /><rect x="739" y="364" width="5" height="26" fill="#000" /><rect x="740" y="365" width="3" height="24" fill="#fff" /><rect x="749" y="349" width="1" height="35" fill="#000" /><rect x="747" y="365" width="5" height="7" fill="#000" /><rect x="757" y="352" width="1" height="22" fill="#000" /><rect x="755" y="355" width="5" height="17" fill="#000" /><rect x="756" y="356" width="3" height="15" fill="#fff" /><rect x="765" y="352" width="1" height="20" fill="#000" /><rect x="763" y="355" width="5" height="2" fill="#000" /><rect x="773" y="355" width="1" height="5" fill="#000" /><rect x="771" y="356" width="5" height="4" fill="#000" /><rect x="772" y="357" width="3" height="2" fill="#fff" /><rect x="781" y="349" width="1" height="19" fill="#000" /><rect x="779" y="357" width="5" height="4" fill="#000" /><rect x="789" y="346" width="1" height="32" fill="#000" /><rect x="787" y="348" width="5" height="13" fill="#000" /><rect x="788" y="349" width="3" height="11" fill="#fff" /><rect x="797" y="335" width="1" height="18" fill="#000" /><rect x="795" y="348" width="5" height="1" fill="#000" /><rect x="805" y="324" width="1" height="30" fill="#000" /><rect x="803" y="327" width="5" height="22" fill="#000" /><rect x="804" y="328" width="3" height="20" fill="#fff" /><rect x="813" y="305" width="1" height="27" fill="#000" /><rect x="811" y="317" width="5" height="11" fill="#000" /><rect x="812" y="318" width="3" height="9" fill="#fff" /><rect x="821" y="315" width="1" height="7" fill="#000" /><rect x="819" y="316" width="5" height="4" fill="#000" /><rect x="829" y="301" width="1" height="23" fill="#000" /><rect x="827" y="319" width="5" height="2" fill="#000" /><rect x="837" y="310" width="1" height="18" fill="#000" /><rect x="835" y="319" width="5" height="1" fill="#000" /><rect x="845" y="312" width="1" height="17" fill="#000" /><rect x="843" y="318" width="5" height="4" fill="#000" /><rect x="853" y="293" width="1" height="43" fill="#000" /><rect x="851" y="295" width="5" height="29" fill="#000" /><rect x="852" y="296" width="3" height="27" fill="#fff" /><rect x="861" y="280" width="1" height="18" fill="#000" /><rect x="859" y="284" width="5" height="12" fill="#000" /><rect x="860" y="285" width="3" height="10" fill="#fff" /><rect x="869" y="282" width="1" height="8" fill="#000" /><rect x="867" y="283" width="5" height="6" fill="#000" /><rect x="868" y="284" width="3" height="4" fill="#fff" /><rect x="877" y="279" width="1" height="15" fill="#000" /><rect x="875" y="283" width="5" height="5" fill="#000" /><rect x="885" y="286" width="1" height="18" fill="#000" /><rect x="883" y="288" width="5" height="4" fill="#000" /><rect x="893" y="275" width="1" height="20" fill="#000" /><rect x="891" y="285" width="5" height="7" fill="#000" /><rect x="892" y="286" width="3" height="5" fill="#fff" /><rect x="901" y="280" width="1" height="9" fill="#000" /><rect x="899" y="285" width="5" height="1" fill="#000" /><rect x="909" y="264" width="1" height="28" fill="#000" /><rect x="907" y="267" width="5" height="20" fill="#000" /><rect x="908" y="268" width="3" height="18" fill="#fff" /><rect x="917" y="257" width="1" height="11" fill="#000" /><rect x="915" y="258" width="5" height="9" fill="#000" /><rect x="916" y="259" width="3" height="7" fill="#fff" /><rect x="925" y="233" width="1" height="27" fill="#000" /><rect x="923" y="234" width="5" height="25" fill="#000" /><rect x="924" y="235" width="3" height="23" fill="#fff" /><rect x="933" y="208" width="1" height="28" fill="#000" /><rect x="931" y="214" width="5" height="20" fill="#000" /><rect x="932" y="215" width="3" height="18" fill="#fff" /><rect x="941" y="213" width="1" height="27" fill="#000" /><rect x="939" y="214" width="5" height="16" fill="#000" /><rect x="949" y="202" width="1" height="34" fill="#000" /><rect x="947" y="208" width="5" height="22" fill="#000" /><rect x="948" y="209" width="3" height="20" fill="#fff" /><rect x="957" y="192" width="1" height="24" fill="#000" /><rect x="955" y="201" width="5" height="8" fill="#000" /><rect x="956" y="202" width="3" height="6" fill="#fff" /><rect x="965" y="195" width="1" height="8" fill="#000" /><rect x="963" y="195" width="5" height="7" fill="#000" /><rect x="964" y="196" width="3" height="5" fill="#fff" /><rect x="973" y="188" width="1" height="21" fill="#000" /><rect x="971" y="195" width="5" height="10" fill="#000" /><rect x="981" y="178" width="1" height="28" fill="#000" /><rect x="979" y="178" width="5" height="27" fill="#000" /><rect x="980" y="179" width="3" height="25" fill="#fff" /><rect x="989" y="141" width="1" height="39" fill="#000" /><rect x="987" y="145" width="5" height="34" fill="#000" /><rect x="988" y="146" width="3" height="32" fill="#fff" /><rect x="997" y="126" width="1" height="58" fill="#000" /><rect x="995" y="146" width="5" height="25" fill="#000" /><rect x="1005" y="167" width="1" height="45" fill="#000" /><rect x="1003" y="170" width="5" height="9" fill="#000" /><rect x="1013" y="172" width="1" height="15" fill="#000" /><rect x="1011" y="175" width="5" height="12" fill="#000" /><rect x="1012" y="176" width="3" height="10" fill="#fff" /><rect x="1021" y="161" width="1" height="27" fill="#000" /><rect x="1019" y="174" width="5" height="2" fill="#000" /><rect x="1029" y="164" width="1" height="30" fill="#000" /><rect x="1027" y="170" width="5" height="5" fill="#000" /><rect x="1028" y="171" width="3" height="3" fill="#fff" /><rect x="1037" y="150" width="1" height="23" fill="#000" /><rect x="1035" y="168" width="5" height="3" fill="#000" /><rect x="1036" y="169" width="3" height="1" fill="#fff" /><rect x="1045" y="123" width="1" height="46" fill="#000" /><rect x="1043" y="143" width="5" height="26" fill="#000" /><rect x="1044" y="144" width="3" height="24" fill="#fff" /><rect x="1053" y="132" width="1" height="28" fill="#000" /><rect x="1051" y="143" width="5" height="1" fill="#000" /><rect x="1061" y="133" width="1" height="13" fill="#000" /><rect x="1059" y="138" width="5" height="7" fill="#000" /><rect x="1060" y="139" width="3" height="5" fill="#fff" /><rect x="1069" y="123" width="1" height="29" fill="#000" /><rect x="1067" y="127" width="5" height="13" fill="#000" /><rect x="1068" y="128" width="3" height="11" fill="#fff" /><rect x="1077" y="108" width="1" height="22" fill="#000" /><rect x="1075" y="121" width="5" height="7" fill="#000" /><rect x="1076" y="122" width="3" height="5" fill="#fff" /><rect x="1085" y="110" width="1" height="16" fill="#000" /><rect x="1083" y="113" width="5" height="9" fill="#000" /><rect x="1084" y="114" width="3" height="7" fill="#fff" /><rect x="1093" y="91" width="1" height="26" fill="#000" /><rect x="1091" y="92" width="5" height="22" fill="#000" /><rect x="1092" y="93" width="3" height="20" fill="#fff" /><rect x="1101" y="81" width="1" height="29" fill="#000" /><rect x="1099" y="92" width="5" height="1" fill="#000" /><rect x="1109" y="88" width="1" height="5" fill="#000" /><rect x="1107" y="88" width="5" height="5" fill="#000" /><rect x="1108" y="89" width="3" height="3" fill="#fff" /><rect x="1117" y="85" width="1" height="26" fill="#000" /><rect x="1115" y="88" width="5" height="10" fill="#000" /><rect x="1125" y="95" width="1" height="27" fill="#000" /><rect x="1123" y="97" width="5" height="4" fill="#000" /><rect x="1133" y="83" width="1" height="24" fill="#000" /><rect x="1131" y="83" width="5" height="18" fill="#000" /><rect x="1132" y="84" width="3" height="16" fill="#fff" /><rect x="1141" y="73" width="1" height="31" fill="#000" /><rect x="1139" y="83" width="5" height="15" fill="#000" /><rect x="1149" y="94" width="1" height="34" fill="#000" /><rect x="1147" y="97" width="5" height="18" fill="#000" /><rect x="1157" y="122" width="1" height="6" fill="#000" /><rect x="1155" y="124" width="5" height="3" fill="#000" /><rect x="1165" y="117" width="1" height="17" fill="#000" /><rect x="1163" y="122" width="5" height="5" fill="#000" /><rect x="1164" y="123" width="3" height="3" fill="#fff" /><rect x="1173" y="121" width="1" height="51" fill="#000" /><rect x="1171" y="122" width="5" height="48" fill="#000" /><rect x="1181" y="157" width="1" height="26" fill="#000" /><rect x="1179" y="168" width="5" height="4" fill="#000" /><rect x="1189" y="139" width="1" height="33" fill="#000" /><rect x="1187" y="140" width="5" height="32" fill="#000" /><rect x="1188" y="141" width="3" height="30" fill="#fff" /><rect x="1197" y="101" width="1" height="41" fill="#000" /><rect x="1195" y="110" width="5" height="32" fill="#000" /><rect x="1196" y="111" width="3" height="30" fill="#fff" /><rect x="1205" y="104" width="1" height="3" fill="#000" /><rect x="1203" y="104" width="5" height="2" fill="#000" /><rect x="1213" y="93" width="1" height="35" fill="#000" /><rect x="1211" y="104" width="5" height="4" fill="#000" /><rect x="1221" y="90" width="1" height="22" fill="#000" /><rect x="1219" y="99" width="5" height="9" fill="#000" /><rect x="1220" y="100" width="3" height="7" fill="#fff" /><rect x="1229" y="67" width="1" height="34" fill="#000" /><rect x="1227" y="70" width="5" height="30" fill="#000" /><rect x="1228" y="71" width="3" height="28" fill="#fff" /><rect x="1237" y="59" width="1" height="22" fill="#000" /><rect x="1235" y="63" width="5" height="8" fill="#000" /><rect x="1236" y="64" width="3" height="6" fill="#fff" /><rect x="1245" y="59" width="1" height="4" fill="#000" /><rect x="1243" y="61" width="5" height="1" fill="#000" /><rect x="1253" y="51" width="1" height="14" fill="#000" /><rect x="1251" y="53" width="5" height="7" fill="#000" /><rect x="1252" y="54" width="3" height="5" fill="#fff" /><rect x="1261" y="50" width="1" height="50" fill="#000" /><rect x="1259" y="53" width="5" height="40" fill="#000" /><rect x="1269" y="86" width="1" height="39" fill="#000" /><rect x="1267" y="92" width="5" height="24" fill="#000" /><rect x="1277" y="113" width="1" height="33" fill="#000" /><rect x="1275" y="116" width="5" height="23" fill="#000" /><rect x="1285" y="117" width="1" height="37" fill="#000" /><rect x="1283" y="132" width="5" height="7" fill="#000" /><rect x="1284" y="133" width="3" height="5" fill="#fff" /><rect x="1293" y="130" width="1" height="3" fill="#000" /><rect x="1291" y="131" width="5" height="1" fill="#000" /><rect x="1301" y="128" width="1" height="22" fill="#000" /><rect x="1299" y="130" width="5" height="2" fill="#000" /><rect x="1309" y="128" width="1" height="24" fill="#000" /><rect x="1307" y="130" width="5" height="18" fill="#000" /><rect x="1317" y="130" width="1" height="24" fill="#000" /><rect x="1315" y="141" width="5" height="6" fill="#000" /><rect x="1316" y="142" width="3" height="4" fill="#fff" /><rect x="1325" y="137" width="1" height="15" fill="#000" /><rect x="1323" y="143" width="5" height="5" fill="#000" /><rect x="1333" y="128" width="1" height="32" fill="#000" /><rect x="1331" y="128" width="5" height="21" fill="#000" /><rect x="1332" y="129" width="3" height="19" fill="#fff" /><rect x="1341" y="130" width="1" height="7" fill="#000" /><rect x="1339" y="130" width="5" height="7" fill="#000" /><rect x="1349" y="107" width="1" height="39" fill="#000" /><rect x="1347" y="108" width="5" height="29" fill="#000" /><rect x="1348" y="109" width="3" height="27" fill="#fff" /><rect x="1357" y="88" width="1" height="36" fill="#000" /><rect x="1355" y="108" width="5" height="16" fill="#000" /><rect x="1365" y="116" width="1" height="26" fill="#000" /><rect x="1363" y="128" width="5" height="1" fill="#000" /><rect x="1373" y="126" width="1" height="35" fill="#000" /><rect x="1371" y="126" width="5" height="31" fill="#000" /><rect x="1381" y="144" width="1" height="21" fill="#000" /><rect x="1379" y="149" width="5" height="9" fill="#000" /><rect x="1380" y="150" width="3" height="7" fill="#fff" /><rect x="1389" y="150" width="1" height="4" fill="#000" /><rect x="1387" y="151" width="5" height="3" fill="#000" /><rect x="1397" y="132" width="1" height="24" fill="#000" /><rect x="1395" y="133" width="5" height="21" fill="#000" /><rect x="1396" y="134" width="3" height="19" fill="#fff" /><rect x="1405" y="108" width="1" height="31" fill="#000" /><rect x="1403" y="109" width="5" height="25" fill="#000" /><rect x="1404" y="110" width="3" height="23" fill="#fff" /><rect x="1413" y="100" width="1" height="15" fill="#000" /><rect x="1411" y="109" width="5" height="2" fill="#000" /></g>
<g shape-rendering="crispEdges"><rect x="5" y="677" width="1" height="40" fill="#c0c0c0" /><rect x="13" y="677" width="1" height="33" fill="#c0c0c0" /><rect x="21" y="677" width="1" height="28" fill="#c0c0c0" /><rect x="29" y="677" width="1" height="19" fill="#c0c0c0" /><rect x="37" y="677" width="1" height="18" fill="#c0c0c0" /><rect x="45" y="677" width="1" height="13" fill="#c0c0c0" /><rect x="53" y="677" width="1" height="7" fill="#c0c0c0" /><rect x="61" y="677" width="1" height="1" fill="#c0c0c0" /><rect x="69" y="673" width="1" height="5" fill="#c0c0c0" /><rect x="77" y="670" width="1" height="8" fill="#c0c0c0" /><rect x="85" y="672" width="1" height="6" fill="#c0c0c0" /><rect x="93" y="672" width="1" height="6" fill="#c0c0c0" /><rect x="101" y="676" width="1" height="2" fill="#c0c0c0" /><rect x="109" y="677" width="1" height="1" fill="#c0c0c0" /><rect x="117" y="677" width="1" height="3" fill="#c0c0c0" /><rect x="125" y="677" width="1" height="3" fill="#c0c0c0" /><rect x="133" y="677" width="1" height="1" fill="#c0c0c0" /><rect x="141" y="674" width="1" height="4" fill="#c0c0c0" /><rect x="149" y="674" width="1" height="4" fill="#c0c0c0" /><rect x="157" y="675" width="1" height="3" fill="#c0c0c0" /><rect x="165" y="676" width="1" height="2" fill="#c0c0c0" /><rect x="173" y="677" width="1" height="1" fill="#c0c0c0" /><rect x="181" y="677" width="1" height="2" fill="#c0c0c0" /><rect x="189" y="677" width="1" height="7" fill="#c0c0c0" /><rect x="197" y="677" width="1" height="11" fill="#c0c0c0" /><rect x="205" y="677" width="1" height="13" fill="#c0c0c0" /><rect x="213" y="677" width="1" height="16" fill="#c0c0c0" /><rect x="221" y="677" width="1" height="18" fill="#c0c0c0" /><rect x="229" y="677" width="1" height="12" fill="#c0c0c0" /><rect x="237" y="677" width="1" height="14" fill="#c0c0c0" /><rect x="245" y="677" width="1" height="13" fill="#c0c0c0" /><rect x="253" y="677" width="1" height="12" fill="#c0c0c0" /><rect x="261" y="677" width="1" height="11" fill="#c0c0c0" /><rect x="269" y="677" width="1" height="1" fill="#c0c0c0" /><rect x="277" y="663" width="1" height="15" fill="#c0c0c0" /><rect x="285" y="654" width="1" height="24" fill="#c0c0c0" /><rect x="293" y="652" width="1" height="26" fill="#c0c0c0" /><rect x="301" y="652" width="1" height="26" fill="#c0c0c0" /><rect x="309" y="650" width="1" height="28" fill="#c0c0c0" /><rect x="317" y="649" width="1" height="29" fill="#c0c0c0" /><rect x="325" y="649" width="1" height="29" fill="#c0c0c0" /><rect x="333" y="652" width="1" height="26" fill="#c0c0c0" /><rect x="341" y="655" width="1" height="23" fill="#c0c0c0" /><rect x="349" y="656" width="1" height="22" fill="#c0c0c0" /><rect x="357" y="656" width="1" height="22" fill="#c0c0c0" /><rect x="365" y="651" width="1" height="27" fill="#c0c0c0" /><rect x="373" y="646" width="1" height="32" fill="#c0c0c0" /><rect x="381" y="642" width="1" height="36" fill="#c0c0c0" /><rect x="389" y="641" width="1" height="37" fill="#c0c0c0" /><rect x="397" y="645" width="1" height="33" fill="#c0c0c0" /><rect x="405" y="647" width="1" height="31" fill="#c0c0c0" /><rect x="413" y="647" width="1" height="31" fill="#c0c0c0" /><rect x="421" y="643" width="1" height="35" fill="#c0c0c0" /><rect x="429" y="643" width="1" height="35" fill="#c0c0c0" /><rect x="437" y="643" width="1" height="35" fill="#c0c0c0" /><rect x="445" y="641" width="1" height="37" fill="#c0c0c0" /><rect x="453" y="643" width="1" height="35" fill="#c0c0c0" /><rect x="461" y="646" width="1" height="32" fill="#c0c0c0" /><rect x="469" y="649" width="1" height="29" fill="#c0c0c0" /><rect x="477" y="650" width="1" height="28" fill="#c0c0c0" /><rect x="485" y="655" width="1" height="23" fill="#c0c0c0" /><rect x="493" y="664" width="1" height="14" fill="#c0c0c0" /><rect x="501" y="667" width="1" height="11" fill="#c0c0c0" /><rect x="509" y="669" width="1" height="9" fill="#c0c0c0" /><rect x="517" y="667" width="1" height="11" fill="#c0c0c0" /><rect x="525" y="664" width="1" height="14" fill="#c0c0c0" /><rect x="533" y="661" width="1" height="17" fill="#c0c0c0" /><rect x="541" y="661" width="1" height="17" fill="#c0c0c0" /><rect x="549" y="664" width="1" height="14" fill="#c0c0c0" /><rect x="557" y="666" width="1" height="12" fill="#c0c0c0" /><rect x="565" y="669" width="1" height="9" fill="#c0c0c0" /><rect x="573" y="665" width="1" height="13" fill="#c0c0c0" /><rect x="581" y="662" width="1" height="16" fill="#c0c0c0" /><rect x="589" y="658" width="1" height="20" fill="#c0c0c0" /><rect x="597" y="659" width="1" height="19" fill="#c0c0c0" /><rect x="605" y="659" width="1" height="19" fill="#c0c0c0" /><rect x="613" y="656" width="1" height="22" fill="#c0c0c0" /><rect x="621" y="653" width="1" height="25" fill="#c0c0c0" /><rect x="629" y="649" width="1" height="29" fill="#c0c0c0" /><rect x="637" y="652" width="1" height="26" fill="#c0c0c0" /><rect x="645" y="654" width="1" height="24" fill="#c0c0c0" /><rect x="653" y="654" width="1" height="24" fill="#c0c0c0" /><rect x="661" y="654" width="1" height="24" fill="#c0c0c0" /><rect x="669" y="652" width="1" height="26" fill="#c0c0c0" /><rect x="677" y="652" width="1" height="26" fill="#c0c0c0" /><rect x="685" y="652" width="1" height="26" fill="#c0c0c0" /><rect x="693" y="649" width="1" height="29" fill="#c0c0c0" /><rect x="701" y="646" width="1" height="32" fill="#c0c0c0" /><rect x="709" y="643" width="1" height="35" fill="#c0c0c0" /><rect x="717" y="646" width="1" height="32" fill="#c0c0c0" /><rect x="725" y="649" width="1" height="29" fill="#c0c0c0" /><rect x="733" y="651" width="1" height="27" fill="#c0c0c0" /><rect x="741" y="650" width="1" height="28" fill="#c0c0c0" /><rect x="749" y="649" width="1" height="29" fill="#c0c0c0" /><rect x="757" y="648" width="1" height="30" fill="#c0c0c0" /><rect x="765" y="648" width="1" height="30" fill="#c0c0c0" /><rect x="773" y="648" width="1" height="30" fill="#c0c0c0" /><rect x="781" y="648" width="1" height="30" fill="#c0c0c0" /><rect x="789" y="648" width="1" height="30" fill="#c0c0c0" /><rect x="797" y="647" width="1" height="31" fill="#c0c0c0" /><rect x="805" y="642" width="1" height="36" fill="#c0c0c0" /><rect x="813" y="639" width="1" height="39" fill="#c0c0c0" /><rect x="821" y="636" width="1" height="42" fill="#c0c0c0" /><rect x="829" y="635" width="1" height="43" fill="#c0c0c0" /><rect x="837" y="634" width="1" height="44" fill="#c0c0c0" /><rect x="845" y="635" width="1" height="43" fill="#c0c0c0" /><rect x="853" y="632" width="1" height="46" fill="#c0c0c0" /><rect x="861" y="628" width="1" height="50" fill="#c0c0c0" /><rect x="869" y="625" width="1" height="53" fill="#c0c0c0" /><rect x="877" y="624" width="1" height="54" fill="#c0c0c0" /><rect x="885" y="625" width="1" height="53" fill="#c0c0c0" /><rect x="893" y="625" width="1" height="53" fill="#c0c0c0" /><rect x="901" y="625" width="1" height="53" fill="#c0c0c0" /><rect x="909" y="624" width="1" height="54" fill="#c0c0c0" /><rect x="917" y="622" width="1" height="56" fill="#c0c0c0" /><rect x="925" y="617" width="1" height="61" fill="#c0c0c0" /><rect x="933" y="610" width="1" height="68" fill="#c0c0c0" /><rect x="941" y="608" width="1" height="70" fill="#c0c0c0" /><rect x="949" y="604" width="1" height="74" fill="#c0c0c0" /><rect x="957" y="601" width="1" height="77" fill="#c0c0c0" /><rect x="965" y="598" width="1" height="80" fill="#c0c0c0" /><rect x="973" y="598" width="1" height="80" fill="#c0c0c0" /><rect x="981" y="595" width="1" height="83" fill="#c0c0c0" /><rect x="989" y="589" width="1" height="89" fill="#c0c0c0" /><rect x="997" y="588" width="1" height="90" fill="#c0c0c0" /><rect x="1005" y="590" width="1" height="88" fill="#c0c0c0" /><rect x="1013" y="592" width="1" height="86" fill="#c0c0c0" /><rect x="1021" y="595" width="1" height="83" fill="#c0c0c0" /><rect x="1029" y="597" width="1" height="81" fill="#c0c0c0" /><rect x="1037" y="599" width="1" height="79" fill="#c0c0c0" /><rect x="1045" y="598" width="1" height="80" fill="#c0c0c0" /><rect x="1053" y="598" width="1" height="80" fill="#c0c0c0" /><rect x="1061" y="598" width="1" height="80" fill="#c0c0c0" /><rect x="1069" y="597" width="1" height="81" fill="#c0c0c0" /><rect x="1077" y="597" width="1" height="81" fill="#c0c0c0" /><rect x="1085" y="597" width="1" height="81" fill="#c0c0c0" /><rect x="1093" y="593" width="1" height="85" fill="#c0c0c0" /><rect x="1101" y="591" width="1" height="87" fill="#c0c0c0" /><rect x="1109" y="590" width="1" height="88" fill="#c0c0c0" /><rect x="1117" y="592" width="1" height="86" fill="#c0c0c0" /><rect x="1125" y="595" width="1" height="83" fill="#c0c0c0" /><rect x="1133" y="596" width="1" height="82" fill="#c0c0c0" /><rect x="1141" y="599" width="1" height="79" fill="#c0c0c0" /><rect x="1149" y="606" width="1" height="72" fill="#c0c0c0" /><rect x="1157" y="613" width="1" height="65" fill="#c0c0c0" /><rect x="1165" y="619" width="1" height="59" fill="#c0c0c0" /><rect x="1173" y="632" width="1" height="46" fill="#c0c0c0" /><rect x="1181" y="644" width="1" height="34" fill="#c0c0c0" /><rect x="1189" y="648" width="1" height="30" fill="#c0c0c0" /><rect x="1197" y="646" width="1" height="32" fill="#c0c0c0" /><rect x="1205" y="645" width="1" height="33" fill="#c0c0c0" /><rect x="1213" y="644" width="1" height="34" fill="#c0c0c0" /><rect x="1221" y="643" width="1" height="35" fill="#c0c0c0" /><rect x="1229" y="639" width="1" height="39" fill="#c0c0c0" /><rect x="1237" y="633" width="1" height="45" fill="#c0c0c0" /><rect x="1245" y="629" width="1" height="49" fill="#c0c0c0" /><rect x="1253" y="626" width="1" height="52" fill="#c0c0c0" /><rect x="1261" y="630" width="1" height="48" fill="#c0c0c0" /><rect x="1269" y="638" width="1" height="40" fill="#c0c0c0" /><rect x="1277" y="648" width="1" height="30" fill="#c0c0c0" /><rect x="1285" y="655" width="1" height="23" fill="#c0c0c0" /><rect x="1293" y="661" width="1" height="17" fill="#c0c0c0" /><rect x="1301" y="665" width="1" height="13" fill="#c0c0c0" /><rect x="1309" y="672" width="1" height="6" fill="#c0c0c0" /><rect x="1317" y="676" width="1" height="2" fill="#c0c0c0" /><rect x="1325" y="677" width="1" height="1" fill="#c0c0c0" /><rect x="1333" y="677" width="1" height="1" fill="#c0c0c0" /><rect x="1341" y="677" width="1" height="5" fill="#c0c0c0" /><rect x="1349" y="677" width="1" height="1" fill="#c0c0c0" /><rect x="1357" y="677" width="1" height="1" fill="#c0c0c0" /><rect x="1365" y="677" width="1" height="1" fill="#c0c0c0" /><rect x="1373" y="677" width="1" height="7" fill="#c0c0c0" /><rect x="1381" y="677" width="1" height="9" fill="#c0c0c0" /><rect x="1389" y="677" width="1" height="12" fill="#c0c0c0" /><rect x="1397" y="677" width="1" height="11" fill="#c0c0c0" /><rect x="1405" y="677" width="1" height="6" fill="#c0c0c0" /><rect x="1413" y="677" width="1" height="2" fill="#c0c0c0" /></g>
<path d="M88 682.5h2M1389 682.5h3M1395 682.5h3M1401 682.5h3M1407 682.5h3M1017 593.5h3M1023 593.5h3M1029 593.5h3M1035 593.5h3M1041 593.5h3M1047 593.5h3M1053 593.5h3M1125 593.5h3M1131 593.5h3M1137 593.5h3M1143 593.5h2M855 637.5h3M1221 637.5h2M1257 637.5h2M1281 637.5h2M82 685.5h2M231 685.5h2M27 723.5h2M123 674.5h3M1353 674.5h2M310 666.5h2M849 639.5h2M1287 639.5h3M345 651.5h3M351 651.5h3M357 651.5h3M363 651.5h3M502 651.5h2M693 651.5h3M699 651.5h3M1312 651.5h2M837 641.5h3M1233 641.5h3M1239 641.5h2M1294 641.5h2M111 676.5h2M153 676.5h3M159 676.5h3M165 676.5h3M171 676.5h3M177 676.5h3M183 676.5h2M1365 676.5h2M99 678.5h3M201 678.5h2M1371 678.5h3M861 636.5h2M1263 636.5h3M1269 636.5h3M1275 636.5h3M117 675.5h3M129 675.5h3M135 675.5h3M141 675.5h3M147 675.5h3M1359 675.5h2M897 628.5h3M532 661.5h2M609 661.5h3M615 661.5h2M393 648.5h3M399 648.5h3M405 648.5h3M495 648.5h2M729 648.5h3M735 648.5h3M741 648.5h3M747 648.5h3M753 648.5h3M759 648.5h3M765 648.5h3M771 648.5h3M777 648.5h3M783 648.5h3M789 648.5h3M1216 635.5h2M429 644.5h3M477 644.5h3M1300 644.5h2M549 664.5h3M555 664.5h3M561 664.5h3M567 664.5h3M573 664.5h3M843 640.5h3M1228 640.5h2M1245 640.5h2M513 655.5h2M645 655.5h3M651 655.5h3M333 654.5h2M508 654.5h2M657 654.5h3M663 654.5h2M316 663.5h2M543 663.5h3M579 663.5h3M585 663.5h3M591 663.5h2M1005 596.5h2M1077 596.5h3M1089 596.5h3M1095 596.5h2M1155 596.5h3M237 686.5h2M423 645.5h2M483 645.5h3M813 645.5h2M537 662.5h3M597 662.5h3M603 662.5h3M1329 662.5h2M1251 638.5h3M369 650.5h3M375 650.5h2M705 650.5h3M711 650.5h2M903 627.5h3M1203 627.5h2M381 649.5h3M387 649.5h3M717 649.5h3M723 649.5h3M969 610.5h2M1179 610.5h2M417 646.5h2M489 646.5h2M801 646.5h3M807 646.5h2M339 652.5h3M687 652.5h3M441 642.5h3M447 642.5h2M825 642.5h3M831 642.5h2M70 692.5h2M321 660.5h2M621 660.5h2M933 621.5h2M298 673.5h2M1348 673.5h2M951 617.5h2M435 643.5h3M453 643.5h3M459 643.5h3M465 643.5h3M471 643.5h2M819 643.5h3M891 629.5h3M93 680.5h2M207 680.5h3M286 680.5h2M999 597.5h3M1083 597.5h3M1011 594.5h3M1059 594.5h3M1113 594.5h3M1119 594.5h2M1149 594.5h2M1065 595.5h3M1071 595.5h2M1101 595.5h3M1107 595.5h3M243 688.5h3M267 688.5h3M225 684.5h2M75 689.5h2M249 689.5h3M255 689.5h3M261 689.5h3M105 677.5h2M189 677.5h3M195 677.5h3M291 677.5h2M885 630.5h3M945 618.5h3M669 653.5h3M675 653.5h3M681 653.5h3M51 705.5h2M519 657.5h3M633 657.5h2M1377 679.5h2M988 601.5h2M958 614.5h2M939 619.5h3M213 681.5h2M1383 681.5h3M993 599.5h3M1162 599.5h2M525 658.5h2M627 658.5h3M1323 658.5h2M1342 670.5h2M411 647.5h3M795 647.5h3M1305 647.5h2M927 622.5h3M3 740.5h3M873 632.5h2M879 631.5h2M1209 631.5h2M915 625.5h3M964 611.5h2M1185 615.5h2M33 718.5h2M57 701.5h2M909 626.5h3M219 683.5h3M15 731.5h2M976 607.5h2M328 656.5h2M639 656.5h2M868 633.5h2M921 624.5h2M1198 624.5h2M9 736.5h2M982 604.5h2M273 687.5h2M63 697.5h2M22 726.5h2M305.5 669v1M81.5 686v1M293.5 676v1M227.5 685v1M1169.5 603v1M303.5 671v1M304.5 670v1M1341.5 669v1M113.5 675v1M1211.5 632v1M863.5 635v1M1173.5 605v1M1307.5 648v1M515.5 656v1M1191.5 619v1M327.5 657v1M809.5 645v1M1192.5 620v1M53.5 704v1M1361.5 676v1M297.5 674v1M971.5 609v1M851.5 638v1M867.5 634v1M1311.5 650v1M65.5 696v1M1241.5 640v1M77.5 688v1M69.5 693v1M833.5 641v1M1193.5 621v1M531.5 660v1M281.5 683v1M1007.5 595v1M815.5 644v1M47.5 708v1M87.5 683v1M975.5 608v1M1347.5 672v1M425.5 644v1M1197.5 623v1M1367.5 677v1M377.5 649v1M1145.5 594v1M953.5 616v1M935.5 620v1M1227.5 639v1M987.5 602v1M275.5 686v1M203.5 679v1M617.5 660v1M501.5 650v1M713.5 649v1M527.5 659v1M1097.5 595v1M1161.5 598v1M923.5 623v1M1317.5 653v1M875.5 631v1M1259.5 636v1M280.5 684v1M593.5 662v1M1187.5 616v1M1318.5 654v1M215.5 682v1M279.5 685v1M1167.5 601v1M107.5 676v1M45.5 710v1M1325.5 659v1M623.5 659v1M309.5 667v1M981.5 605v1M473.5 644v1M1299.5 643v1M1355.5 675v1M35.5 717v1M1319.5 655v1M641.5 655v1M11.5 735v1M323.5 659v1M239.5 687v1M419.5 645v1M315.5 664v1M1121.5 593v1M881.5 630v1M233.5 686v1M449.5 643v1M95.5 679v1M1379.5 680v1M1413.5 682v1M497.5 649v1M957.5 615v1M635.5 656v1M1335.5 665v1M507.5 653v1M335.5 653v1M1205.5 628v1M1336.5 666v1M46.5 709v1M1293.5 640v1M491.5 647v1M665.5 653v1M1337.5 667v1M59.5 700v1M963.5 612v1M1247.5 639v1M1283.5 638v1M41.5 712v1M1331.5 663v1M1168.5 602v1M185.5 677v1M1151.5 595v1M17.5 730v1M1174.5 606v1M39.5 714v1M40.5 713v1M1175.5 607v1M1223.5 638v1M29.5 722v1M1073.5 596v1M1215.5 634v1M285.5 681v1M1181.5 611v1M21.5 727v1" stroke="#ff0000" stroke-width="1" fill="none" shape-rendering="crispEdges"/>
<line x1="0" y1="786.5" x2="1684" y2="786.5" stroke="#c0c0c0" stroke-width="1" stroke-dasharray="3 3" stroke-dashoffset="2" shape-rendering="crispEdges"/>
<line x1="0" y1="837.5" x2="1684" y2="837.5" stroke="#c0c0c0" stroke-width="1" stroke-dasharray="3 3" stroke-dashoffset="2" shape-rendering="crispEdges"/>
<line x1="0" y1="898.5" x2="1684" y2="898.5" stroke="#c0c0c0" stroke-width="1" stroke-dasharray="3 3" stroke-dashoffset="2" shape-rendering="crispEdges"/>
<path d="M556 836.5h3M369 815.5h3M627 815.5h3M697 815.5h5M789 815.5h9M283 812.5h3M706 812.5h2M365 817.5h2M621 817.5h2M1220 817.5h2M19 837.5h3M92 837.5h2M129 837.5h5M554 837.5h2M559 837.5h2M1357 837.5h2M46 831.5h2M330 831.5h2M348 831.5h3M398 831.5h2M466 831.5h2M597 831.5h4M731 831.5h3M54 827.5h2M142 827.5h2M319 827.5h4M406 827.5h2M520 827.5h2M654 827.5h2M237 846.5h2M1278 846.5h2M949 787.5h4M979 787.5h2M1075 787.5h4M857 794.5h3M1045 794.5h4M52 828.5h2M144 828.5h2M293 828.5h2M303 828.5h2M323 828.5h3M356 828.5h2M404 828.5h2M475 828.5h3M518 828.5h2M930 779.5h2M59 824.5h2M65 824.5h13M309 824.5h2M412 824.5h2M527 824.5h2M574 824.5h2M659 824.5h2M672 824.5h2M683 824.5h3M748 824.5h2M372 814.5h5M693 814.5h4M702 814.5h2M926 781.5h2M1091 781.5h2M1097 781.5h8M12 839.5h3M88 839.5h2M122 839.5h2M159 839.5h4M166 839.5h2M245 839.5h2M260 839.5h2M503 839.5h4M550 839.5h2M564 839.5h2M1363 839.5h3M428 821.5h11M580 821.5h5M614 821.5h2M742 821.5h2M777 821.5h3M1199 821.5h2M1211 821.5h3M335 833.5h2M344 833.5h2M462 833.5h2M637 833.5h9M853 796.5h2M875 796.5h2M1173 848.5h2M1315 848.5h4M1379 848.5h2M1383 848.5h4M9 840.5h3M37 840.5h2M85 840.5h3M120 840.5h2M157 840.5h2M168 840.5h2M247 840.5h2M257 840.5h3M501 840.5h2M1334 840.5h2M106 843.5h2M175 843.5h4M1284 843.5h18M1340 843.5h2M0 841.5h3M7 841.5h2M118 841.5h2M170 841.5h2M249 841.5h3M255 841.5h2M1336 841.5h2M911 791.5h2M1063 791.5h2M1121 791.5h3M1126 791.5h2M417 820.5h2M426 820.5h2M439 820.5h2M451 820.5h3M585 820.5h5M775 820.5h2M1201 820.5h3M1207 820.5h4M1214 820.5h2M50 829.5h2M146 829.5h2M295 829.5h4M326 829.5h2M353 829.5h3M402 829.5h2M471 829.5h4M651 829.5h2M717 829.5h10M1405 829.5h9M15 838.5h4M90 838.5h2M124 838.5h5M163 838.5h3M507 838.5h3M552 838.5h2M561 838.5h3M1359 838.5h4M532 822.5h2M578 822.5h2M665 822.5h5M744 822.5h2M751 822.5h2M780 822.5h2M1197 822.5h2M860 793.5h5M870 793.5h2M941 793.5h2M1049 793.5h8M884 801.5h3M1000 801.5h2M1025 801.5h8M102 845.5h2M1280 845.5h2M220 852.5h2M812 802.5h3M1002 802.5h2M1009 802.5h16M878 798.5h2M1039 798.5h2M48 830.5h2M148 830.5h2M299 830.5h3M328 830.5h2M351 830.5h2M400 830.5h2M468 830.5h3M601 830.5h5M649 830.5h2M727 830.5h4M337 834.5h3M342 834.5h2M1353 834.5h2M191 855.5h2M213 855.5h2M882 800.5h2M887 800.5h4M998 800.5h2M1033 800.5h5M422 818.5h2M444 818.5h3M619 818.5h2M757 818.5h12M785 818.5h2M1218 818.5h2M808 804.5h2M819 804.5h19M1247 804.5h4M61 823.5h4M529 823.5h3M576 823.5h2M661 823.5h4M670 823.5h2M746 823.5h2M1157 823.5h9M913 790.5h3M945 790.5h2M975 790.5h2M1065 790.5h3M1119 790.5h2M424 819.5h2M441 819.5h3M447 819.5h4M617 819.5h2M755 819.5h2M769 819.5h6M1204 819.5h3M1216 819.5h2M315 826.5h4M408 826.5h2M522 826.5h2M676 826.5h3M840 806.5h2M1235 806.5h6M273 813.5h2M377 813.5h5M704 813.5h2M207 851.5h2M1374 851.5h2M844 808.5h2M1229 808.5h2M842 807.5h2M1231 807.5h4M332 832.5h3M346 832.5h2M464 832.5h2M646 832.5h2M865 792.5h5M909 792.5h2M1057 792.5h6M1124 792.5h2M104 844.5h2M179 844.5h3M1282 844.5h2M1071 788.5h4M1131 788.5h2M987 782.5h3M1089 782.5h2M928 780.5h2M1093 780.5h4M1105 780.5h5M810 803.5h2M815 803.5h4M1004 803.5h5M1251 803.5h3M921 785.5h2M959 785.5h4M982 785.5h2M1083 785.5h3M3 842.5h4M108 842.5h10M172 842.5h3M252 842.5h3M1338 842.5h2M855 795.5h2M873 795.5h2M905 795.5h2M1043 795.5h2M985 783.5h2M1175 849.5h4M1311 849.5h4M1319 849.5h4M1377 849.5h2M1387 849.5h3M1179 850.5h3M1309 850.5h2M1323 850.5h3M367 816.5h2M623 816.5h4M189 854.5h2M211 854.5h2M215 854.5h2M279 811.5h4M708 811.5h2M916 789.5h2M1068 789.5h3M1117 789.5h2M1129 789.5h2M932 778.5h2M880 799.5h2M891 799.5h11M1305 847.5h2M1381 847.5h2M340 835.5h2M806 805.5h2M838 805.5h2M1241 805.5h6M28 825.5h2M57 825.5h2M307 825.5h2M311 825.5h4M410 825.5h2M524 825.5h3M657 825.5h2M674 825.5h2M679 825.5h4M217 853.5h3M193 856.5h3M953 786.5h6M1079 786.5h4M963 784.5h3M1086 784.5h2M277 810.5h2M196 857.5h2M492.5 849v2M935.5 781v2M995.5 794v2M1267.5 835v2M968.5 787v1M454.5 821v2M1173.5 847v1M800.5 812v1M996.5 796v2M288.5 817v2M1260.5 824v3M1268.5 837v1M1332.5 840v2M736.5 827v1M969.5 788v1M1343.5 839v2M78.5 826v2M231.5 830v3M455.5 823v2M1188.5 835v2M919.5 787v1M1128.5 790v1M907.5 794v1M36.5 838v2M223.5 844v4M1147.5 811v2M79.5 828v2M237.5 847v1M272.5 814v1M923.5 784v1M1140.5 799v2M1143.5 804v2M535.5 824v1M713.5 819v3M33.5 832v2M44.5 833v1M481.5 833v2M390.5 823v1M1183.5 845v2M222.5 848v3M287.5 815v2M264.5 830v3M633.5 823v3M656.5 826v1M363.5 820v1M268.5 819v3M542.5 831v1M1328.5 846v1M846.5 806v2M458.5 828v2M1172.5 844v3M1259.5 821v3M534.5 823v1M568.5 833v2M1165.5 824v1M35.5 836v2M1366.5 840v2M244.5 840v1M276.5 811v1M1146.5 809v2M236.5 844v2M716.5 826v2M202.5 852v1M1187.5 837v2M416.5 821v1M1139.5 797v2M226.5 835v3M606.5 829v1M572.5 826v2M594.5 827v1M541.5 830v1M1226.5 811v1M1256.5 811v3M39.5 839v1M595.5 828v1M241.5 843v1M135.5 834v1M934.5 779v2M690.5 818v1M1331.5 842v1M1342.5 841v2M199.5 855v1M1308.5 849v1M24.5 832v1M632.5 821v2M225.5 838v3M515.5 831v1M739.5 823v1M750.5 823v1M994.5 792v2M382.5 814v1M100.5 845v1M1346.5 835v1M1369.5 845v2M1191.5 830v1M629.5 816v1M230.5 828v2M734.5 829v2M1142.5 802v2M389.5 822v1M1150.5 816v1M420.5 818v1M224.5 841v3M32.5 830v2M267.5 822v2M715.5 824v2M1135.5 790v2M613.5 822v1M495.5 848v1M1399.5 836v2M1304.5 846v1M183.5 846v2M1168.5 831v3M1396.5 840v1M480.5 832v1M1255.5 808v3M1307.5 848v1M42.5 835v1M712.5 817v2M1391.5 846v2M305.5 827v1M544.5 834v1M997.5 798v2M1171.5 841v3M872.5 794v1M232.5 833v3M754.5 820v1M286.5 813v2M1372.5 850v2M221.5 851v1M918.5 788v1M1148.5 813v2M1145.5 808v1M571.5 828v2M1368.5 844v1M1149.5 815v1M971.5 790v1M385.5 817v2M944.5 791v1M1138.5 795v2M229.5 826v2M510.5 837v1M513.5 833v2M479.5 831v1M498.5 844v1M1402.5 833v1M1141.5 801v1M1182.5 847v2M804.5 807v1M941.5 794v1M974.5 791v1M31.5 828v2M1277.5 847v1M1350.5 831v1M263.5 833v2M1155.5 821v1M1134.5 788v2M23.5 833v2M138.5 830v1M978.5 788v1M925.5 782v1M567.5 835v2M1156.5 822v1M182.5 845v1M799.5 813v1M362.5 821v1M993.5 789v3M27.5 827v2M902.5 798v1M262.5 835v3M271.5 815v1M608.5 827v1M852.5 797v2M1194.5 826v1M1371.5 848v2M1269.5 838v1M1225.5 812v2M1186.5 839v2M275.5 812v1M1258.5 818v3M243.5 841v1M1112.5 783v1M536.5 825v1M948.5 788v1M1303.5 845v1M1137.5 794v1M392.5 826v1M1349.5 830v1M141.5 826v1M235.5 841v3M593.5 825v2M596.5 829v2M848.5 803v2M30.5 826v2M543.5 832v2M228.5 828v3M711.5 815v2M483.5 836v1M631.5 819v2M802.5 809v1M1345.5 836v2M570.5 830v2M266.5 824v3M1166.5 825v3M204.5 850v1M1110.5 781v1M101.5 846v1M227.5 831v4M1367.5 842v2M415.5 822v1M1111.5 782v1M1170.5 838v3M41.5 836v2M137.5 831v2M1136.5 792v2M1144.5 806v2M566.5 837v2M201.5 853v1M714.5 822v2M1133.5 787v1M265.5 827v3M34.5 834v2M482.5 835v1M391.5 824v2M1330.5 843v1M1333.5 839v1M1169.5 834v4M151.5 832v2M517.5 829v1M26.5 829v1M687.5 821v2M486.5 840v2M395.5 829v2M152.5 834v1M741.5 820v1M782.5 821v1M1390.5 848v1M1193.5 827v2M185.5 849v1M1254.5 805v3M94.5 838v1M512.5 835v1M630.5 817v2M966.5 785v1M186.5 850v1M547.5 837v2M1228.5 809v1M22.5 835v2M653.5 828v1M383.5 815v1M497.5 845v2M140.5 827v2M992.5 787v2M384.5 816v1M612.5 823v1M1398.5 838v1M361.5 822v2M364.5 818v2M1257.5 814v4M1223.5 815v1M1151.5 817v1M920.5 786v1M904.5 796v1M1393.5 844v1M851.5 799v1M234.5 838v3M924.5 783v1M1196.5 823v2M1185.5 841v2M184.5 848v1M1355.5 835v1M1261.5 827v2M1041.5 797v1M710.5 813v2M1356.5 836v1M1348.5 831v2M500.5 841v2M984.5 784v1M943.5 792v1M1370.5 847v1M83.5 836v2M1373.5 852v1M1113.5 784v2M1404.5 830v1M1401.5 834v1M1114.5 786v1M1271.5 840v1M801.5 810v2M877.5 797v1M847.5 805v1M973.5 792v1M939.5 789v2M908.5 793v1M394.5 828v1M610.5 825v1M292.5 825v2M359.5 825v1M545.5 835v1M261.5 838v1M607.5 828v1M85.5 841v1M485.5 839v1M546.5 836v1M203.5 851v1M97.5 841v2M991.5 785v2M1264.5 832v1M972.5 791v1M82.5 834v2M40.5 838v1M386.5 819v1M740.5 821v2M850.5 800v2M387.5 820v1M537.5 826v1M25.5 830v2M1351.5 832v1M484.5 837v2M150.5 831v1M393.5 827v1M538.5 827v1M938.5 787v2M686.5 823v1M1347.5 833v2M488.5 843v2M709.5 812v1M291.5 823v2M1263.5 830v2M29.5 824v1M511.5 836v1M187.5 851v2M302.5 829v1M210.5 853v1M188.5 853v1M494.5 849v2M1270.5 839v1M43.5 834v1M306.5 826v1M1253.5 804v1M134.5 835v2M1222.5 816v1M784.5 819v1M1327.5 847v1M198.5 856v1M636.5 830v2M1392.5 845v1M788.5 816v1M937.5 785v2M735.5 828v1M738.5 824v1M1167.5 828v3M233.5 836v2M487.5 842v1M153.5 835v1M1262.5 829v1M548.5 839v1M499.5 843v1M81.5 832v2M419.5 819v1M461.5 834v1M240.5 844v1M1395.5 841v2M358.5 826v2M990.5 783v2M903.5 797v1M940.5 791v2M590.5 821v2M1195.5 825v1M1116.5 788v1M28.5 826v1M689.5 819v1M1274.5 844v1M591.5 823v1M1190.5 831v2M396.5 831v1M290.5 821v2M206.5 850v1M490.5 846v2M753.5 821v1M1153.5 819v1M293.5 827v1M514.5 832v1M209.5 852v1M1403.5 831v2M95.5 839v1M84.5 838v2M491.5 848v1M967.5 786v1M96.5 840v1M1376.5 850v1M1181.5 849v1M80.5 830v2M803.5 808v1M1326.5 848v2M457.5 827v1M1273.5 842v2M616.5 820v1M1152.5 818v1M692.5 815v1M1115.5 787v1M609.5 826v1M205.5 849v1M635.5 828v2M289.5 819v2M540.5 829v1M270.5 816v1M456.5 825v2M1088.5 783v1M460.5 832v2M156.5 839v1M1329.5 844v2M947.5 789v1M849.5 802v1M1266.5 834v1M737.5 825v2M99.5 844v1M1272.5 841v1M1189.5 833v2M77.5 825v1M783.5 820v1M388.5 821v1M798.5 814v1M1352.5 833v1M989.5 781v1M936.5 783v2M539.5 828v1M45.5 832v1M634.5 826v2M98.5 843v1M1224.5 814v1M459.5 830v2M573.5 825v1M1265.5 833v1M691.5 816v2M239.5 845v1M1394.5 843v1M1184.5 843v2M1038.5 799v1M977.5 789v1M516.5 830v1M787.5 817v1M37.5 841v1M1042.5 796v1M1344.5 838v1M981.5 786v1M569.5 832v1M269.5 817v2M478.5 829v2M489.5 845v1M637.5 832v1M155.5 837v2M1276.5 846v1M421.5 817v1M1227.5 810v1M242.5 842v1M493.5 851v1M136.5 833v1M139.5 829v1M200.5 854v1M414.5 823v1M611.5 824v1M549.5 840v1M1397.5 839v1M360.5 824v1M970.5 789v1M688.5 820v1M1192.5 829v1M1275.5 845v1M56.5 826v1M1302.5 844v1M1154.5 820v1M717.5 828v1M592.5 824v1M496.5 847v1M397.5 832v1M154.5 836v1M805.5 806v1M1400.5 835v1M648.5 831v1" stroke="#1e90ff" stroke-width="1" fill="none" shape-rendering="crispEdges"/>
<g shape-rendering="crispEdges"><rect x="1685" y="45" width="2" height="1" fill="#000" />
<text x="1690.4" y="48.8" font-size="9.9" font-family="Liberation Sans, sans-serif" fill="#000" textLength="32.0" lengthAdjust="spacingAndGlyphs">153.580</text>
<rect x="1685" y="78" width="2" height="1" fill="#000" />
<text x="1690.4" y="81.8" font-size="9.9" font-family="Liberation Sans, sans-serif" fill="#000" textLength="32.0" lengthAdjust="spacingAndGlyphs">152.355</text>
<rect x="1685" y="177" width="2" height="1" fill="#000" />
<text x="1690.4" y="180.8" font-size="9.9" font-family="Liberation Sans, sans-serif" fill="#000" textLength="32.0" lengthAdjust="spacingAndGlyphs">148.680</text>
<rect x="1685" y="210" width="2" height="1" fill="#000" />
<text x="1690.4" y="213.8" font-size="9.9" font-family="Liberation Sans, sans-serif" fill="#000" textLength="32.0" lengthAdjust="spacingAndGlyphs">147.455</text>
<rect x="1685" y="243" width="2" height="1" fill="#000" />
<text x="1690.4" y="246.8" font-size="9.9" font-family="Liberation Sans, sans-serif" fill="#000" textLength="32.0" lengthAdjust="spacingAndGlyphs">146.230</text>
<rect x="1685" y="276" width="2" height="1" fill="#000" />
<text x="1690.4" y="279.8" font-size="9.9" font-family="Liberation Sans, sans-serif" fill="#000" textLength="32.0" lengthAdjust="spacingAndGlyphs">145.005</text>
<rect x="1685" y="309" width="2" height="1" fill="#000" />
<text x="1690.4" y="312.8" font-size="9.9" font-family="Liberation Sans, sans-serif" fill="#000" textLength="32.0" lengthAdjust="spacingAndGlyphs">143.780</text>
<rect x="1685" y="342" width="2" height="1" fill="#000" />
<text x="1690.4" y="345.8" font-size="9.9" font-family="Liberation Sans, sans-serif" fill="#000" textLength="32.0" lengthAdjust="spacingAndGlyphs">142.555</text>
<rect x="1685" y="375" width="2" height="1" fill="#000" />
<text x="1690.4" y="378.8" font-size="9.9" font-family="Liberation Sans, sans-serif" fill="#000" textLength="32.0" lengthAdjust="spacingAndGlyphs">141.330</text>
<rect x="1685" y="408" width="2" height="1" fill="#000" />
<text x="1690.4" y="411.8" font-size="9.9" font-family="Liberation Sans, sans-serif" fill="#000" textLength="32.0" lengthAdjust="spacingAndGlyphs">140.140</text>
<rect x="1685" y="441" width="2" height="1" fill="#000" />
<text x="1690.4" y="444.8" font-size="9.9" font-family="Liberation Sans, sans-serif" fill="#000" textLength="32.0" lengthAdjust="spacingAndGlyphs">138.915</text>
<rect x="1685" y="474" width="2" height="1" fill="#000" />
<text x="1690.4" y="477.8" font-size="9.9" font-family="Liberation Sans, sans-serif" fill="#000" textLength="32.0" lengthAdjust="spacingAndGlyphs">137.690</text>
<rect x="1685" y="507" width="2" height="1" fill="#000" />
<text x="1690.4" y="510.8" font-size="9.9" font-family="Liberation Sans, sans-serif" fill="#000" textLength="32.0" lengthAdjust="spacingAndGlyphs">136.465</text>
<rect x="1685" y="540" width="2" height="1" fill="#000" />
<text x="1690.4" y="543.8" font-size="9.9" font-family="Liberation Sans, sans-serif" fill="#000" textLength="32.0" lengthAdjust="spacingAndGlyphs">135.240</text>
<rect x="1685" y="573" width="2" height="1" fill="#000" />
<text x="1690.4" y="576.8" font-size="9.9" font-family="Liberation Sans, sans-serif" fill="#000" textLength="32.0" lengthAdjust="spacingAndGlyphs">134.015</text>
<text x="1688.4" y="588.8" font-size="9.9" font-family="Liberation Sans, sans-serif" fill="#000" textLength="27.1" lengthAdjust="spacingAndGlyphs">1.7944</text>
<rect x="1685" y="677" width="2" height="1" fill="#000" />
<text x="1688.4" y="680.8" font-size="9.9" font-family="Liberation Sans, sans-serif" fill="#000" textLength="17.2" lengthAdjust="spacingAndGlyphs">0.00</text>
<text x="1688.4" y="744.8" font-size="9.9" font-family="Liberation Sans, sans-serif" fill="#000" textLength="30.4" lengthAdjust="spacingAndGlyphs">-1.2998</text>
<text x="1688.4" y="760.8" font-size="9.9" font-family="Liberation Sans, sans-serif" fill="#000" textLength="14.4" lengthAdjust="spacingAndGlyphs">100</text>
<rect x="1685" y="786" width="2" height="1" fill="#000" />
<text x="1688.4" y="789.8" font-size="9.9" font-family="Liberation Sans, sans-serif" fill="#000" textLength="9.5" lengthAdjust="spacingAndGlyphs">80</text>
<rect x="1685" y="837" width="2" height="1" fill="#000" />
<text x="1688.4" y="840.8" font-size="9.9" font-family="Liberation Sans, sans-serif" fill="#000" textLength="9.5" lengthAdjust="spacingAndGlyphs">50</text>
<rect x="1685" y="898" width="2" height="1" fill="#000" />
<text x="1688.4" y="901.8" font-size="9.9" font-family="Liberation Sans, sans-serif" fill="#000" textLength="9.5" lengthAdjust="spacingAndGlyphs">15</text>
<text x="1688.4" y="920.8" font-size="9.9" font-family="Liberation Sans, sans-serif" fill="#000" textLength="4.5" lengthAdjust="spacingAndGlyphs">0</text>
<rect x="1686" y="66" width="41" height="11" fill="#ff0000" />
<text x="1690.4" y="75.4" font-size="9.9" font-family="Liberation Sans, sans-serif" fill="#fff" textLength="32.0" lengthAdjust="spacingAndGlyphs">152.573</text>
<rect x="1686" y="87" width="41" height="11" fill="#ff0000" />
<text x="1690.4" y="96.4" font-size="9.9" font-family="Liberation Sans, sans-serif" fill="#fff" textLength="32.0" lengthAdjust="spacingAndGlyphs">151.795</text>
<rect x="1686" y="104" width="41" height="11" fill="#000" />
<text x="1690.4" y="113.4" font-size="9.9" font-family="Liberation Sans, sans-serif" fill="#fff" textLength="32.0" lengthAdjust="spacingAndGlyphs">151.209</text>
<rect x="1686" y="119" width="41" height="11" fill="#00c8c8" />
<text x="1690.4" y="128.4" font-size="9.9" font-family="Liberation Sans, sans-serif" fill="#fff" textLength="32.0" lengthAdjust="spacingAndGlyphs">150.610</text>
<rect x="1686" y="141" width="41" height="11" fill="#0000ff" />
<text x="1690.4" y="150.4" font-size="9.9" font-family="Liberation Sans, sans-serif" fill="#fff" textLength="32.0" lengthAdjust="spacingAndGlyphs">149.824</text>
<rect x="1686" y="163" width="41" height="11" fill="#0000ff" />
<text x="1690.4" y="172.4" font-size="9.9" font-family="Liberation Sans, sans-serif" fill="#fff" textLength="32.0" lengthAdjust="spacingAndGlyphs">149.007</text>
<rect x="-3" y="925" width="1" height="3" fill="#000" />
<text x="-3.5" y="937" font-size="9.5" font-family="Liberation Sans, sans-serif" fill="#000">30 Sep 2020</text>
<rect x="61" y="925" width="1" height="3" fill="#000" />
<text x="60.5" y="937" font-size="9.5" font-family="Liberation Sans, sans-serif" fill="#000">9 Oct 2020</text>
<rect x="125" y="925" width="1" height="3" fill="#000" />
<text x="124.5" y="937" font-size="9.5" font-family="Liberation Sans, sans-serif" fill="#000">19 Oct 2020</text>
<rect x="189" y="925" width="1" height="3" fill="#000" />
<text x="188.5" y="937" font-size="9.5" font-family="Liberation Sans, sans-serif" fill="#000">28 Oct 2020</text>
<rect x="253" y="925" width="1" height="3" fill="#000" />
<text x="252.5" y="937" font-size="9.5" font-family="Liberation Sans, sans-serif" fill="#000">6 Nov 2020</text>
<rect x="317" y="925" width="1" height="3" fill="#000" />
<text x="316.5" y="937" font-size="9.5" font-family="Liberation Sans, sans-serif" fill="#000">16 Nov 2020</text>
<rect x="381" y="925" width="1" height="3" fill="#000" />
<text x="380.5" y="937" font-size="9.5" font-family="Liberation Sans, sans-serif" fill="#000">25 Nov 2020</text>
<rect x="445" y="925" width="1" height="3" fill="#000" />
<text x="444.5" y="937" font-size="9.5" font-family="Liberation Sans, sans-serif" fill="#000">4 Dec 2020</text>
<rect x="509" y="925" width="1" height="3" fill="#000" />
<text x="508.5" y="937" font-size="9.5" font-family="Liberation Sans, sans-serif" fill="#000">14 Dec 2020</text>
<rect x="573" y="925" width="1" height="3" fill="#000" />
<text x="572.5" y="937" font-size="9.5" font-family="Liberation Sans, sans-serif" fill="#000">23 Dec 2020</text>
<rect x="637" y="925" width="1" height="3" fill="#000" />
<text x="636.5" y="937" font-size="9.5" font-family="Liberation Sans, sans-serif" fill="#000">4 Jan 2021</text>
<rect x="701" y="925" width="1" height="3" fill="#000" />
<text x="700.5" y="937" font-size="9.5" font-family="Liberation Sans, sans-serif" fill="#000">13 Jan 2021</text>
<rect x="765" y="925" width="1" height="3" fill="#000" />
<text x="764.5" y="937" font-size="9.5" font-family="Liberation Sans, sans-serif" fill="#000">22 Jan 2021</text>
<rect x="829" y="925" width="1" height="3" fill="#000" />
<text x="828.5" y="937" font-size="9.5" font-family="Liberation Sans, sans-serif" fill="#000">1 Feb 2021</text>
<rect x="893" y="925" width="1" height="3" fill="#000" />
<text x="892.5" y="937" font-size="9.5" font-family="Liberation Sans, sans-serif" fill="#000">10 Feb 2021</text>
<rect x="957" y="925" width="1" height="3" fill="#000" />
<text x="956.5" y="937" font-size="9.5" font-family="Liberation Sans, sans-serif" fill="#000">19 Feb 2021</text>
<rect x="1021" y="925" width="1" height="3" fill="#000" />
<text x="1020.5" y="937" font-size="9.5" font-family="Liberation Sans, sans-serif" fill="#000">1 Mar 2021</text>
<rect x="1085" y="925" width="1" height="3" fill="#000" />
<text x="1084.5" y="937" font-size="9.5" font-family="Liberation Sans, sans-serif" fill="#000">10 Mar 2021</text>
<rect x="1149" y="925" width="1" height="3" fill="#000" />
<text x="1148.5" y="937" font-size="9.5" font-family="Liberation Sans, sans-serif" fill="#000">19 Mar 2021</text>
<rect x="1213" y="925" width="1" height="3" fill="#000" />
<text x="1212.5" y="937" font-size="9.5" font-family="Liberation Sans, sans-serif" fill="#000">29 Mar 2021</text>
<rect x="1277" y="925" width="1" height="3" fill="#000" />
<text x="1276.5" y="937" font-size="9.5" font-family="Liberation Sans, sans-serif" fill="#000">8 Apr 2021</text>
<rect x="1341" y="925" width="1" height="3" fill="#000" />
<text x="1340.5" y="937" font-size="9.5" font-family="Liberation Sans, sans-serif" fill="#000">18 Apr 2021</text>
<rect x="1405" y="925" width="1" height="3" fill="#000" />
<text x="1404.5" y="937" font-size="9.5" font-family="Liberation Sans, sans-serif" fill="#000">27 Apr 2021</text></g>
<rect x="958.5" y="116.5" width="61" height="18" fill="#fff" stroke="#ff0000" stroke-width="1" shape-rendering="crispEdges"/>
<text x="961" y="132.1" font-size="17" font-family="Liberation Sans, sans-serif" fill="#ff0000" textLength="57" lengthAdjust="spacingAndGlyphs">150.610</text>
<rect x="1020" y="125" width="10" height="1" fill="#ff0000" />
<rect x="1070.5" y="63.5" width="61" height="18" fill="#fff" stroke="#ff0000" stroke-width="1" shape-rendering="crispEdges"/>
<text x="1073" y="79.1" font-size="17" font-family="Liberation Sans, sans-serif" fill="#ff0000" textLength="57" lengthAdjust="spacingAndGlyphs">152.573</text>
<rect x="1110.5" y="174.5" width="61" height="18" fill="#fff" stroke="#ff0000" stroke-width="1" shape-rendering="crispEdges"/>
<text x="1113" y="190.1" font-size="17" font-family="Liberation Sans, sans-serif" fill="#ff0000" textLength="57" lengthAdjust="spacingAndGlyphs">148.460</text>
<rect x="1172" y="183" width="10" height="1" fill="#ff0000" />
<rect x="1182.5" y="41.5" width="61" height="18" fill="#fff" stroke="#ff0000" stroke-width="1" shape-rendering="crispEdges"/>
<text x="1185" y="57.1" font-size="17" font-family="Liberation Sans, sans-serif" fill="#ff0000" textLength="57" lengthAdjust="spacingAndGlyphs">153.388</text>
<rect x="1244" y="50" width="10" height="1" fill="#ff0000" />
<rect x="1286.5" y="79.5" width="61" height="18" fill="#fff" stroke="#ff0000" stroke-width="1" shape-rendering="crispEdges"/>
<text x="1289" y="95.1" font-size="17" font-family="Liberation Sans, sans-serif" fill="#ff0000" textLength="57" lengthAdjust="spacingAndGlyphs">152.000</text>
<rect x="1348" y="88" width="10" height="1" fill="#ff0000" />
<rect x="1310.5" y="160.5" width="61" height="18" fill="#fff" stroke="#ff0000" stroke-width="1" shape-rendering="crispEdges"/>
<text x="1313" y="176.1" font-size="17" font-family="Liberation Sans, sans-serif" fill="#ff0000" textLength="57" lengthAdjust="spacingAndGlyphs">149.007</text>
<rect x="1372" y="169" width="4" height="1" fill="#ff0000" />
<rect x="1280" y="120" width="196" height="8" fill="#00ff00" shape-rendering="crispEdges"/>
<line x1="1373.0" y1="180.0" x2="1418.6" y2="112.7" stroke="#ff0000" stroke-width="3.8" shape-rendering="crispEdges"/><polygon points="1424.5,104.0 1422.5,115.4 1414.7,110.0" fill="#ff0000" shape-rendering="crispEdges"/>
<line x1="1362.4" y1="851.1" x2="1409.9" y2="832.7" stroke="#ff0000" stroke-width="3.8" shape-rendering="crispEdges"/><polygon points="1420.2,828.7 1411.8,837.3 1408.1,828.0" fill="#ff0000" shape-rendering="crispEdges"/>
<polygon points="1424,24 1434,24 1429,29" fill="#c0c0c0"/>
<text x="1486.3" y="137.5" font-size="20.4" font-family="Liberation Sans, Noto Sans CJK SC, sans-serif" style="font-family:'Liberation Sans','Noto Sans CJK SC',sans-serif" fill="#00ff00" letter-spacing="1.75">多空转折点</text>
<text x="1.5" y="590.5" font-size="9.3" font-family="Liberation Sans, sans-serif" fill="#000">MACD(12,26,9) -0.0200 -0.0883</text>
<text x="1.5" y="762.5" font-size="9.3" font-family="Liberation Sans, sans-serif" fill="#000">RSI(14) 55.4444</text>
<polygon points="0,34 7,34 3.5,30" fill="#000"/>
<text x="12" y="34.6" font-size="9.4" font-family="Liberation Sans, sans-serif" fill="#000" textLength="209.5" lengthAdjust="spacingAndGlyphs">GBPJPY-,Daily&#160;&#160;151.181 151.550 150.994 151.209</text>
<defs>
<linearGradient id="gTop" x1="0" y1="0" x2="0" y2="1"><stop offset="0" stop-color="#fa5252"/><stop offset="1" stop-color="#e03434"/></linearGradient>
<linearGradient id="gBot" x1="0" y1="0" x2="0" y2="1"><stop offset="0" stop-color="#de3030"/><stop offset="0.5" stop-color="#c61616"/><stop offset="1" stop-color="#b00000"/></linearGradient>
<linearGradient id="gBtn" x1="0" y1="0" x2="0" y2="1"><stop offset="0" stop-color="#f2f2f2"/><stop offset="0.45" stop-color="#e6e6e6"/><stop offset="0.46" stop-color="#d8d8d8"/><stop offset="1" stop-color="#d0d0d0"/></linearGradient>
</defs>
<g shape-rendering="crispEdges">
<rect x="0" y="43" width="52" height="25" fill="#b00000"/>
<rect x="1" y="44" width="50" height="24" fill="url(#gTop)"/>
<rect x="167" y="43" width="52" height="25" fill="#b00000"/>
<rect x="168" y="44" width="50" height="24" fill="url(#gTop)"/>
<rect x="0" y="67" width="109" height="40" fill="#b00000"/>
<rect x="1" y="68" width="107" height="38" fill="url(#gBot)"/>
<rect x="111" y="67" width="108" height="40" fill="#b00000"/>
<rect x="112" y="68" width="106" height="38" fill="url(#gBot)"/>
<rect x="1" y="66" width="50" height="3" fill="#dd3232"/>
<rect x="168" y="66" width="50" height="3" fill="#dd3232"/>
<rect x="4" y="66" width="44" height="1" fill="#900000"/>
<rect x="4" y="67" width="44" height="1" fill="#f87070"/>
<rect x="171" y="66" width="44" height="1" fill="#900000"/>
<rect x="171" y="67" width="44" height="1" fill="#f87070"/>
<rect x="54" y="43" width="112" height="22" fill="#a8acb4"/>
<rect x="55" y="44" width="110" height="20" fill="#fff"/>
<rect x="56" y="45" width="19" height="18" fill="url(#gBtn)"/>
<rect x="145" y="45" width="19" height="18" fill="url(#gBtn)"/>
<rect x="75" y="44" width="1" height="20" fill="#b4b8c0"/>
<rect x="143" y="44" width="1" height="20" fill="#b4b8c0"/>
</g>
<polygon points="61.8,52 67.2,52 64.5,55.2" fill="#4858b8"/>
<polygon points="150.8,55.2 156.2,55.2 153.5,52" fill="#4858b8"/>
<text x="139.6" y="57.4" font-size="11.8" font-family="Liberation Sans, sans-serif" fill="#000" text-anchor="end">1.00</text>
<text x="12.2" y="58.9" font-size="12.3" font-family="Liberation Sans, sans-serif" fill="#fff" textLength="25.8" lengthAdjust="spacingAndGlyphs">SELL</text>
<text x="180.2" y="58.9" font-size="12.3" font-family="Liberation Sans, sans-serif" fill="#fff" textLength="23.7" lengthAdjust="spacingAndGlyphs">BUY</text>
<text x="23.2" y="97.9" font-size="12" font-weight="bold" font-family="Liberation Sans, sans-serif" fill="#fff" textLength="20.6" lengthAdjust="spacingAndGlyphs">151</text>
<text x="47.6" y="97.6" font-size="32" font-family="Liberation Sans, sans-serif" fill="#fff" textLength="34.4" lengthAdjust="spacingAndGlyphs">20</text>
<text x="87.3" y="82.1" font-size="12" font-weight="bold" font-family="Liberation Sans, sans-serif" fill="#fff">9</text>
<text x="133.2" y="97.9" font-size="12" font-weight="bold" font-family="Liberation Sans, sans-serif" fill="#fff" textLength="20.6" lengthAdjust="spacingAndGlyphs">151</text>
<text x="157.4" y="97.6" font-size="32" font-family="Liberation Sans, sans-serif" fill="#fff" textLength="34.6" lengthAdjust="spacingAndGlyphs">45</text>
<text x="198.1" y="82.1" font-size="12" font-weight="bold" font-family="Liberation Sans, sans-serif" fill="#fff">1</text>
<rect x="0" y="0" width="1731" height="19" fill="#f0f0f0" shape-rendering="crispEdges"/>
<rect x="0" y="19" width="1731" height="1" fill="#b8b8b8" shape-rendering="crispEdges"/>
<rect x="0" y="20" width="1731" height="1" fill="#7c7c7c" shape-rendering="crispEdges"/>
<rect x="0" y="21" width="1731" height="2" fill="#fff" shape-rendering="crispEdges"/>
<rect x="320" y="0" width="24" height="17" fill="#f9f9f9" shape-rendering="crispEdges"/>
<rect x="472" y="0" width="24" height="17" fill="#f9f9f9" shape-rendering="crispEdges"/>
<rect x="500" y="0" width="24" height="17" fill="#f9f9f9" shape-rendering="crispEdges"/>
<rect x="660" y="0" width="24" height="17" fill="#f9f9f9" shape-rendering="crispEdges"/>
<rect x="1134" y="0" width="24" height="17" fill="#f9f9f9" shape-rendering="crispEdges"/>
<rect x="-3" y="-3" width="10" height="16.2" rx="1" fill="#fff" stroke="#2a72b8" stroke-width="1.3"/>
<path d="M-2,2.5 h8 M-2,5 h8 M-2,7.5 h8 M-2,10 h8" stroke="#c8d8f8" stroke-width="1"/>
<path d="M1.5,18 l1.8,-1.8 l1.8,1.8 l-1.8,1.8 z" fill="none" stroke="#000" stroke-width="0.7"/>
<rect x="20.7" y="-3" width="11.6" height="15.3" rx="0.8" fill="#fafafa" stroke="#b0a890" stroke-width="1"/>
<path d="M23,3 v5 M30,3 v4 M22,5 h2 M29,4 h2" stroke="#606060" stroke-width="0.9"/>
<line x1="32.2" y1="12" x2="37" y2="16" stroke="#a87c10" stroke-width="3"/><line x1="32.4" y1="11.8" x2="36.8" y2="15.6" stroke="#e0c030" stroke-width="1.4"/>
<circle cx="28.4" cy="8.3" r="5.2" fill="#d8ecf8" fill-opacity="0.85" stroke="#6a98dc" stroke-width="1.1"/>
<rect x="26.8" y="5.5" width="3" height="5" fill="#90a8c0" opacity="0.8"/>
<rect x="45" y="0" width="1" height="17" fill="#a0a0a0" shape-rendering="crispEdges"/>
<path d="M55.5,-2 h8 l3.5,3.5 v10.8 h-11.5 z" fill="#fcfcfc" stroke="#909090" stroke-width="0.9"/>
<path d="M57.5,2 h3 M57.5,4.5 h6 M57.5,7 h5 M57.5,9.5 h3" stroke="#909090" stroke-width="1"/>
<path d="M62.9,5.499999999999999 h3.8 v3.8000000000000003 h3.8000000000000003 v3.8 h-3.8000000000000003 v3.8000000000000003 h-3.8 v-3.8000000000000003 h-3.8000000000000003 v-3.8 h3.8000000000000003 z" fill="#20c420" stroke="#0a8a0a" stroke-width="0.9" stroke-linejoin="round"/><path d="M63.5,6.299999999999999 h2.5999999999999996 v3.2 h3.4000000000000004 v1 h-9.8 v-1 h3.4000000000000004 z" fill="#8cf48c" opacity="0.75"/>
<text x="73.3" y="9.9" font-size="12.3" font-family="Liberation Sans, Noto Sans CJK SC, sans-serif" style="font-family:'Liberation Sans','Noto Sans CJK SC',sans-serif" fill="#000">新订单</text>
<defs><linearGradient id="gGold" x1="0" y1="0" x2="1" y2="1"><stop offset="0" stop-color="#fbe040"/><stop offset="0.6" stop-color="#eab818"/><stop offset="1" stop-color="#d89810"/></linearGradient><linearGradient id="gCloud" x1="0" y1="0" x2="0" y2="1"><stop offset="0" stop-color="#ffffff"/><stop offset="1" stop-color="#b4c0d6"/></linearGradient></defs>
<path d="M127.4,-1 L137,6.2 L137.8,9 L129.5,14.7 L122,8.7 C124,6.5 126,3 127.4,-1 Z" fill="url(#gGold)" stroke="#a06c0c" stroke-width="1"/>
<path d="M122.6,8.9 L129.6,12.4 L137,6.6 L137.6,8.8 L129.5,14.2 Z" fill="#d89c14"/>
<path d="M130.2,13 L137,8" stroke="#f4e8b0" stroke-width="0.9"/>
<path d="M152.2,-2 h10.7 v10.5 h-10.7 z" fill="#1a9cf8"/>
<path d="M152.2,-2 h3 v10.5 h-3 z" fill="#0a88e8"/><path d="M155.5,-1 v9" stroke="#70c4ff" stroke-width="0.8"/>
<path d="M157.3,4.1 h4.4 M157.3,6 h4.4" stroke="#e0f0ff" stroke-width="0.8"/>
<path d="M152.6,14.4 a2.6,2.6 0 0 1 -0.3,-5.2 a2.6,2.6 0 0 1 3.6,-1.2 a3.1,3.1 0 0 1 5.4,0.6 a2.4,2.4 0 0 1 3,2 a2.2,2.2 0 0 1 -0.6,3.8 z" fill="url(#gCloud)" stroke="#4464a4" stroke-width="1"/>
<path d="M186.3,6.7 L186.3,14.9 A8.1,8.1 0 0 0 194,4.2 Z" fill="#7cbc7c" opacity="0.8"/>
<path d="M186,-1.3 A8,8 0 0 0 186,14.7" fill="none" stroke="#7c9ce0" stroke-width="1.1"/>
<path d="M186,-1.3 A8,8 0 0 1 194,6.7" fill="none" stroke="#a8c8b0" stroke-width="1.1"/>
<path d="M186,1.7 A5,5 0 0 0 186,11.7" fill="none" stroke="#5c84dc" stroke-width="1.2"/>
<path d="M186,1.7 A5,5 0 0 1 191,6.7" fill="none" stroke="#88a8c8" stroke-width="1.1"/>
<path d="M191,6.7 A5,5 0 0 1 189.5,10.2 M194,6.7 A8,8 0 0 1 191.6,12.4" fill="none" stroke="#3c8c5c" stroke-width="1.1"/>
<circle cx="186" cy="6.3" r="2" fill="#2050cc"/>
<path d="M186.5,7 V14.8" stroke="#12a012" stroke-width="1.5"/>
<path d="M205,6 L220.8,5.6 L216.5,10 L213,14.8 L209.4,10.6 Z" fill="#f6d848" stroke="#c89c14" stroke-width="0.7"/>
<path d="M207,7 L214,8 L212.8,13" fill="#fcf088" opacity="0.8"/>
<ellipse cx="212.9" cy="4.2" rx="8" ry="2.7" fill="#4ca4dc" stroke="#2484bc" stroke-width="0.7"/>
<path d="M209.2,4.2 C209.8,1.5 210.2,-1 210.4,-3 h5 C215.6,-1 216,1.5 216.6,4.2 C214,5.4 211.6,5.4 209.2,4.2 z" fill="#74bcec"/>
<circle cx="217.4" cy="10.8" r="4.1" fill="#e82808" stroke="#b41404" stroke-width="0.7"/><rect x="215.8" y="9.2" width="3.2" height="3.2" fill="#fff"/>
<text x="226.1" y="9.9" font-size="12.3" font-family="Liberation Sans, Noto Sans CJK SC, sans-serif" style="font-family:'Liberation Sans','Noto Sans CJK SC',sans-serif" fill="#000" letter-spacing="-0.55">自动交易</text>
<rect x="281" y="0" width="1" height="19" fill="#a0a0a0" shape-rendering="crispEdges"/><rect x="282" y="0" width="1" height="19" fill="#fff" shape-rendering="crispEdges"/>
<rect x="285" y="1" width="3" height="1" fill="#b4b4b4" shape-rendering="crispEdges"/><rect x="285" y="3" width="3" height="1" fill="#b4b4b4" shape-rendering="crispEdges"/><rect x="285" y="5" width="3" height="1" fill="#b4b4b4" shape-rendering="crispEdges"/><rect x="285" y="7" width="3" height="1" fill="#b4b4b4" shape-rendering="crispEdges"/><rect x="285" y="9" width="3" height="1" fill="#b4b4b4" shape-rendering="crispEdges"/><rect x="285" y="11" width="3" height="1" fill="#b4b4b4" shape-rendering="crispEdges"/><rect x="285" y="13" width="3" height="1" fill="#b4b4b4" shape-rendering="crispEdges"/><rect x="285" y="15" width="3" height="1" fill="#b4b4b4" shape-rendering="crispEdges"/>
<path d="M299.4,1.8 V14.6 M297,12.7 H310.2" stroke="#585858" stroke-width="1.1" fill="none"/><polygon points="297.59999999999997,3.6 301.2,3.6 299.4,1" fill="#585858"/><polygon points="309,10.9 309,14.5 311.2,12.7" fill="#585858"/>
<path d="M305.6,2.8 V10.4 M303.2,9.6 H305.6 M305.6,3.2 H308.2" stroke="#18a018" stroke-width="1.3" fill="none"/>
<rect x="319" y="0" width="1" height="17" fill="#a0a0a0" shape-rendering="crispEdges"/>
<path d="M327.4,1.8 V14.6 M325,12.7 H338.2" stroke="#585858" stroke-width="1.1" fill="none"/><polygon points="325.59999999999997,3.6 329.2,3.6 327.4,1" fill="#585858"/><polygon points="337,10.9 337,14.5 339.2,12.7" fill="#585858"/>
<path d="M333.6,-1 V10.6" stroke="#18a018" stroke-width="1.2"/><rect x="331.4" y="1.4" width="4.4" height="7.2" fill="#40d040" stroke="#18a018" stroke-width="0.9"/>
<path d="M355.4,1.8 V14.6 M353,12.7 H366.2" stroke="#585858" stroke-width="1.1" fill="none"/><polygon points="353.59999999999997,3.6 357.2,3.6 355.4,1" fill="#585858"/><polygon points="365,10.9 365,14.5 367.2,12.7" fill="#585858"/>
<path d="M354,9.8 C357,8.5 358,4.3 360.4,4.3 C362.5,4.3 363,7.5 365.6,8.4" stroke="#20a020" stroke-width="1.2" fill="none"/>
<rect x="376" y="0" width="1" height="17" fill="#a0a0a0" shape-rendering="crispEdges"/>
<line x1="394.6" y1="9.2" x2="400.2" y2="13.6" stroke="#a87c10" stroke-width="3.2"/><line x1="394.8" y1="9.0" x2="400.0" y2="13.2" stroke="#e8c838" stroke-width="1.6"/><circle cx="391" cy="5" r="5.4" fill="#d4eaf8" stroke="#3a80c8" stroke-width="1.2"/><path d="M388,5 h6 M391,2 v6" stroke="#4a88b8" stroke-width="1.6"/>
<line x1="422.6" y1="9.2" x2="428.2" y2="13.6" stroke="#a87c10" stroke-width="3.2"/><line x1="422.8" y1="9.0" x2="428.0" y2="13.2" stroke="#e8c838" stroke-width="1.6"/><circle cx="419" cy="5" r="5.4" fill="#d4eaf8" stroke="#3a80c8" stroke-width="1.2"/><path d="M416,5 h6" stroke="#4a88b8" stroke-width="1.6"/>
<rect x="441.2" y="-0.6" width="7.9" height="7.6" rx="0.8" fill="#4aa820"/>
<path d="M443.0,6.0 v-3.4 h4.4 v3.4 M443.0,4.4 h4.4" stroke="#e8f0ff" stroke-width="1" fill="none"/>
<rect x="449.3" y="-0.6" width="7.9" height="7.6" rx="0.8" fill="#2858d0"/>
<path d="M451.1,6.0 v-3.4 h4.4 v3.4 M451.1,4.4 h4.4" stroke="#e8f0ff" stroke-width="1" fill="none"/>
<rect x="441.2" y="7.2" width="7.9" height="7.6" rx="0.8" fill="#2858d0"/>
<path d="M443.0,13.8 v-3.4 h4.4 v3.4 M443.0,12.2 h4.4" stroke="#e8f0ff" stroke-width="1" fill="none"/>
<rect x="449.3" y="7.2" width="7.9" height="7.6" rx="0.8" fill="#4aa820"/>
<path d="M451.1,13.8 v-3.4 h4.4 v3.4 M451.1,12.2 h4.4" stroke="#e8f0ff" stroke-width="1" fill="none"/>
<rect x="466" y="0" width="1" height="17" fill="#a0a0a0" shape-rendering="crispEdges"/>
<rect x="471" y="0" width="1" height="17" fill="#a0a0a0" shape-rendering="crispEdges"/>
<path d="M479.59999999999997,1.8 V14.6 M477.2,12.7 H490.4" stroke="#585858" stroke-width="1.1" fill="none"/><polygon points="477.79999999999995,3.6 481.4,3.6 479.59999999999997,1" fill="#585858"/><polygon points="489.2,10.9 489.2,14.5 491.4,12.7" fill="#585858"/>
<polygon points="484.3,3.2 484.3,9.8 488,6.6" fill="#b0f0b0" stroke="#18a018" stroke-width="1.1"/>
<rect x="499" y="0" width="1" height="17" fill="#a0a0a0" shape-rendering="crispEdges"/>
<path d="M507.4,1.8 V14.6 M505,12.7 H518.2" stroke="#585858" stroke-width="1.1" fill="none"/><polygon points="505.59999999999997,3.6 509.2,3.6 507.4,1" fill="#585858"/><polygon points="517,10.9 517,14.5 519.2,12.7" fill="#585858"/>
<path d="M513.5,1 V10.6" stroke="#1878b8" stroke-width="1.3"/>
<path d="M515,6.6 H519 M514.6,6.6 l2.6,-2 v4 z" stroke="#e05010" stroke-width="1" fill="#e05010"/>
<rect x="528" y="0" width="1" height="17" fill="#a0a0a0" shape-rendering="crispEdges"/>
<path d="M538.5,-2 h8 l3.5,3.5 v10.8 h-11.5 z" fill="#fcfcfc" stroke="#909090" stroke-width="0.9"/>
<path d="M541,3 c-1,1 -1,6 0,7" stroke="#604020" stroke-width="1" fill="none"/>
<path d="M546.1,5.499999999999999 h3.8 v3.8000000000000003 h3.8000000000000003 v3.8 h-3.8000000000000003 v3.8000000000000003 h-3.8 v-3.8000000000000003 h-3.8000000000000003 v-3.8 h3.8000000000000003 z" fill="#20c420" stroke="#0a8a0a" stroke-width="0.9" stroke-linejoin="round"/><path d="M546.7,6.299999999999999 h2.5999999999999996 v3.2 h3.4000000000000004 v1 h-9.8 v-1 h3.4000000000000004 z" fill="#8cf48c" opacity="0.75"/>
<polygon points="559.7,6.2 565.3,6.2 562.5,9.2" fill="#000"/>
<circle cx="584" cy="7" r="7" fill="#f0f6fc" stroke="#1464cc" stroke-width="2.2"/>
<path d="M584,3 V7.6 H587" stroke="#202020" stroke-width="1.2" fill="none"/>
<polygon points="598.9000000000001,6.2 604.5,6.2 601.7,9.2" fill="#000"/>
<rect x="615.3" y="-2" width="15.4" height="15.8" rx="0.8" fill="#fff" stroke="#3472c4" stroke-width="1.2"/>
<rect x="615.3" y="-2" width="15.4" height="4.2" fill="#4c8cdc"/>
<path d="M615.5,8 h15" stroke="#3472c4" stroke-width="1"/>
<path d="M617.5,6.4 l2,0 l2,-1.6 l2,1 l2,0 l2,-1.2" stroke="#a03010" stroke-width="1.2" fill="none"/>
<path d="M617.5,11.6 l2,-1 l2,1 l2.4,-2.2 l2.6,2.2" stroke="#18a018" stroke-width="1.2" fill="none"/>
<polygon points="637.7,6.2 643.3,6.2 640.5,9.2" fill="#000"/>
<rect x="649" y="0" width="1" height="19" fill="#a0a0a0" shape-rendering="crispEdges"/><rect x="650" y="0" width="1" height="19" fill="#fff" shape-rendering="crispEdges"/>
<rect x="653" y="1" width="3" height="1" fill="#b4b4b4" shape-rendering="crispEdges"/><rect x="653" y="3" width="3" height="1" fill="#b4b4b4" shape-rendering="crispEdges"/><rect x="653" y="5" width="3" height="1" fill="#b4b4b4" shape-rendering="crispEdges"/><rect x="653" y="7" width="3" height="1" fill="#b4b4b4" shape-rendering="crispEdges"/><rect x="653" y="9" width="3" height="1" fill="#b4b4b4" shape-rendering="crispEdges"/><rect x="653" y="11" width="3" height="1" fill="#b4b4b4" shape-rendering="crispEdges"/><rect x="653" y="13" width="3" height="1" fill="#b4b4b4" shape-rendering="crispEdges"/><rect x="653" y="15" width="3" height="1" fill="#b4b4b4" shape-rendering="crispEdges"/>
<rect x="659" y="0" width="1" height="17" fill="#a0a0a0" shape-rendering="crispEdges"/>
<path d="M667.4,-1 L667.2,10.9 L670.4,8.2 L672.7,13.6 L674.2,12.9 L672,7.6 L675.4,7.3 Z" fill="#484848"/>
<path d="M699.4,-1 V6 M699.4,8.8 V14.6 M692,7.4 H698 M700.8,7.4 H707" stroke="#404040" stroke-width="1.1"/>
<rect x="716" y="0" width="1" height="17" fill="#a0a0a0" shape-rendering="crispEdges"/>
<path d="M733.5,1 V13.6" stroke="#404040" stroke-width="1.1"/>
<path d="M756,7.4 H768" stroke="#404040" stroke-width="1.1"/>
<path d="M784,13.8 L796,1.8" stroke="#404040" stroke-width="1.1"/>
<path d="M809.6,8.6 L817.7,1.2 M814.9,13.7 L824,5.3" stroke="#505050" stroke-width="0.9"/>
<path d="M811.4,12.8 L812.5,6.6 L814.6,10.4 L815.8,4.6 L817.8,8.4 L819,2.4 L821.2,6 L822,-0.5" stroke="#404040" stroke-width="1.3" fill="none"/>
<text x="820.9" y="15.9" font-size="6.8" font-weight="bold" font-family="Liberation Sans, sans-serif" fill="#303030" textLength="4.1" lengthAdjust="spacingAndGlyphs">E</text>
<rect x="839" y="0" width="1" height="1" fill="#404040" shape-rendering="crispEdges"/>
<rect x="841" y="0" width="1" height="1" fill="#404040" shape-rendering="crispEdges"/>
<rect x="843" y="0" width="1" height="1" fill="#404040" shape-rendering="crispEdges"/>
<rect x="845" y="0" width="1" height="1" fill="#404040" shape-rendering="crispEdges"/>
<rect x="847" y="0" width="1" height="1" fill="#404040" shape-rendering="crispEdges"/>
<rect x="849" y="0" width="1" height="1" fill="#404040" shape-rendering="crispEdges"/>
<rect x="851" y="0" width="1" height="1" fill="#404040" shape-rendering="crispEdges"/>
<rect x="839" y="3" width="1" height="1" fill="#404040" shape-rendering="crispEdges"/>
<rect x="841" y="3" width="1" height="1" fill="#404040" shape-rendering="crispEdges"/>
<rect x="843" y="3" width="1" height="1" fill="#404040" shape-rendering="crispEdges"/>
<rect x="845" y="3" width="1" height="1" fill="#404040" shape-rendering="crispEdges"/>
<rect x="847" y="3" width="1" height="1" fill="#404040" shape-rendering="crispEdges"/>
<rect x="849" y="3" width="1" height="1" fill="#404040" shape-rendering="crispEdges"/>
<rect x="851" y="3" width="1" height="1" fill="#404040" shape-rendering="crispEdges"/>
<rect x="839" y="7" width="1" height="1" fill="#404040" shape-rendering="crispEdges"/>
<rect x="841" y="7" width="1" height="1" fill="#404040" shape-rendering="crispEdges"/>
<rect x="843" y="7" width="1" height="1" fill="#404040" shape-rendering="crispEdges"/>
<rect x="845" y="7" width="1" height="1" fill="#404040" shape-rendering="crispEdges"/>
<rect x="847" y="7" width="1" height="1" fill="#404040" shape-rendering="crispEdges"/>
<rect x="849" y="7" width="1" height="1" fill="#404040" shape-rendering="crispEdges"/>
<rect x="851" y="7" width="1" height="1" fill="#404040" shape-rendering="crispEdges"/>
<rect x="839" y="11" width="1" height="1" fill="#404040" shape-rendering="crispEdges"/>
<rect x="841" y="11" width="1" height="1" fill="#404040" shape-rendering="crispEdges"/>
<rect x="843" y="11" width="1" height="1" fill="#404040" shape-rendering="crispEdges"/>
<rect x="845" y="11" width="1" height="1" fill="#404040" shape-rendering="crispEdges"/>
<rect x="847" y="11" width="1" height="1" fill="#404040" shape-rendering="crispEdges"/>
<text x="848.8" y="15.9" font-size="6.8" font-weight="bold" font-family="Liberation Sans, sans-serif" fill="#303030" textLength="4.1" lengthAdjust="spacingAndGlyphs">F</text>
<text x="873.7" y="11.8" font-size="11.8" font-family="Liberation Sans, sans-serif" fill="#404040" stroke="#404040" stroke-width="0.25" text-anchor="middle">A</text>
<rect x="896" y="1" width="1" height="1" fill="#404040" shape-rendering="crispEdges"/><rect x="898" y="1" width="1" height="1" fill="#404040" shape-rendering="crispEdges"/><rect x="900" y="1" width="1" height="1" fill="#404040" shape-rendering="crispEdges"/><rect x="902" y="1" width="1" height="1" fill="#404040" shape-rendering="crispEdges"/><rect x="904" y="1" width="1" height="1" fill="#404040" shape-rendering="crispEdges"/><rect x="906" y="1" width="1" height="1" fill="#404040" shape-rendering="crispEdges"/><rect x="896" y="13" width="1" height="1" fill="#404040" shape-rendering="crispEdges"/><rect x="898" y="13" width="1" height="1" fill="#404040" shape-rendering="crispEdges"/><rect x="900" y="13" width="1" height="1" fill="#404040" shape-rendering="crispEdges"/><rect x="902" y="13" width="1" height="1" fill="#404040" shape-rendering="crispEdges"/><rect x="904" y="13" width="1" height="1" fill="#404040" shape-rendering="crispEdges"/><rect x="906" y="13" width="1" height="1" fill="#404040" shape-rendering="crispEdges"/><rect x="896" y="3" width="1" height="1" fill="#404040" shape-rendering="crispEdges"/><rect x="896" y="5" width="1" height="1" fill="#404040" shape-rendering="crispEdges"/><rect x="896" y="7" width="1" height="1" fill="#404040" shape-rendering="crispEdges"/><rect x="896" y="9" width="1" height="1" fill="#404040" shape-rendering="crispEdges"/><rect x="896" y="11" width="1" height="1" fill="#404040" shape-rendering="crispEdges"/><rect x="907" y="1" width="1" height="1" fill="#404040" shape-rendering="crispEdges"/><rect x="907" y="3" width="1" height="1" fill="#404040" shape-rendering="crispEdges"/><rect x="907" y="5" width="1" height="1" fill="#404040" shape-rendering="crispEdges"/><rect x="907" y="7" width="1" height="1" fill="#404040" shape-rendering="crispEdges"/><rect x="907" y="9" width="1" height="1" fill="#404040" shape-rendering="crispEdges"/><rect x="907" y="11" width="1" height="1" fill="#404040" shape-rendering="crispEdges"/><rect x="907" y="13" width="1" height="1" fill="#404040" shape-rendering="crispEdges"/>
<path d="M895.5,0 h2 v1.4 h-2 z" fill="#404040"/>
<path d="M898,5 H906 M902,5 V11.5" stroke="#404040" stroke-width="1.5"/>
<path d="M923.4,4 L926.8,0.8 L930.2,4 L926.8,5.4 Z" fill="#404040"/>
<path d="M930.2,10.8 L933.6,13.8 L937,10.8 L933.6,9.4 Z" fill="#404040"/>
<path d="M925.4,8 L927.6,10.2 L932.6,4.8" stroke="#404040" stroke-width="1.4" fill="none"/>
<polygon points="943.7,6.2 949.3,6.2 946.5,9.2" fill="#000"/>
<rect x="955" y="0" width="1" height="19" fill="#a0a0a0" shape-rendering="crispEdges"/><rect x="956" y="0" width="1" height="19" fill="#fff" shape-rendering="crispEdges"/>
<rect x="959" y="1" width="3" height="1" fill="#b4b4b4" shape-rendering="crispEdges"/><rect x="959" y="3" width="3" height="1" fill="#b4b4b4" shape-rendering="crispEdges"/><rect x="959" y="5" width="3" height="1" fill="#b4b4b4" shape-rendering="crispEdges"/><rect x="959" y="7" width="3" height="1" fill="#b4b4b4" shape-rendering="crispEdges"/><rect x="959" y="9" width="3" height="1" fill="#b4b4b4" shape-rendering="crispEdges"/><rect x="959" y="11" width="3" height="1" fill="#b4b4b4" shape-rendering="crispEdges"/><rect x="959" y="13" width="3" height="1" fill="#b4b4b4" shape-rendering="crispEdges"/><rect x="959" y="15" width="3" height="1" fill="#b4b4b4" shape-rendering="crispEdges"/>
<text x="970.2" y="10.9" font-size="9.4" font-family="Liberation Sans, sans-serif" fill="#404040" textLength="13.4" lengthAdjust="spacingAndGlyphs">M1</text>
<text x="998.2" y="10.9" font-size="9.4" font-family="Liberation Sans, sans-serif" fill="#404040" textLength="13.0" lengthAdjust="spacingAndGlyphs">M5</text>
<text x="1024.0" y="10.9" font-size="9.4" font-family="Liberation Sans, sans-serif" fill="#404040" textLength="18.3" lengthAdjust="spacingAndGlyphs">M15</text>
<text x="1052.1999999999998" y="10.9" font-size="9.4" font-family="Liberation Sans, sans-serif" fill="#404040" textLength="18.1" lengthAdjust="spacingAndGlyphs">M30</text>
<text x="1083.1" y="10.9" font-size="9.4" font-family="Liberation Sans, sans-serif" fill="#404040" textLength="12.4" lengthAdjust="spacingAndGlyphs">H1</text>
<text x="1110.3" y="10.9" font-size="9.4" font-family="Liberation Sans, sans-serif" fill="#404040" textLength="13.0" lengthAdjust="spacingAndGlyphs">H4</text>
<text x="1138.8999999999999" y="10.9" font-size="9.4" font-family="Liberation Sans, sans-serif" fill="#404040" textLength="12.4" lengthAdjust="spacingAndGlyphs">D1</text>
<text x="1166.6" y="10.9" font-size="9.4" font-family="Liberation Sans, sans-serif" fill="#404040" textLength="14.9" lengthAdjust="spacingAndGlyphs">W1</text>
<text x="1193.3" y="10.9" font-size="9.4" font-family="Liberation Sans, sans-serif" fill="#404040" textLength="15.6" lengthAdjust="spacingAndGlyphs">MN</text>
<rect x="1133" y="0" width="1" height="17" fill="#a0a0a0" shape-rendering="crispEdges"/>
<rect x="1216" y="0" width="1" height="19" fill="#a0a0a0" shape-rendering="crispEdges"/>
<line x1="1683.4" y1="7.6" x2="1678.4" y2="12.2" stroke="#2a62d0" stroke-width="2"/>
<circle cx="1686.3" cy="4.8" r="3.8" fill="#f4f8ff" stroke="#2a62d0" stroke-width="1.6"/>
<path d="M1703.5,9.6 a6.2,4.6 0 1 1 5,4.5 l-3.2,2 l0.8,-2.8 a5,4.4 0 0 1 -2.6,-3.7 z" fill="#f4f4f4" stroke="#b8b8b8" stroke-width="0.9"/>
<circle cx="1716.6" cy="4" r="8.4" fill="#e03020"/>
<text x="1716.6" y="8.6" font-size="11" font-weight="bold" font-family="Liberation Sans, sans-serif" fill="#fff" text-anchor="middle">1</text>
</svg>
</body></html>
